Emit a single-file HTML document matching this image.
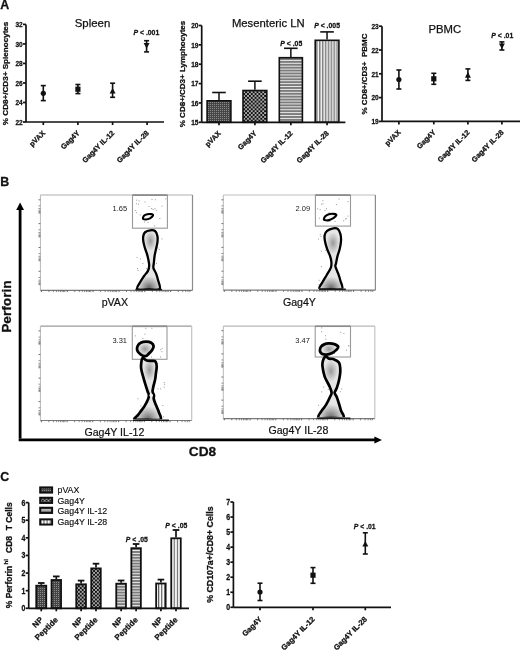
<!DOCTYPE html>
<html><head><meta charset="utf-8"><style>
html,body{margin:0;padding:0;background:#fff;}
svg{display:block;font-family:"Liberation Sans", sans-serif;will-change:transform;}
text[font-weight=bold]{stroke:#111;stroke-width:0.28px;}
</style></head><body>
<svg width="520" height="650" viewBox="0 0 520 650">
<defs>
<pattern id="pv" width="2" height="2" patternUnits="userSpaceOnUse">
<rect width="2" height="2" fill="#454545"/><rect width="1" height="1" fill="#8c8c8c"/>
</pattern>
<pattern id="gy" width="3.8" height="3.8" patternUnits="userSpaceOnUse">
<rect width="3.8" height="3.8" fill="#111"/><rect x="0.2" y="0.2" width="1.55" height="1.55" fill="#f2f2f2"/><rect x="2.1" y="2.1" width="1.55" height="1.55" fill="#f2f2f2"/>
</pattern>
<pattern id="h12" width="4" height="2.9" patternUnits="userSpaceOnUse">
<rect width="4" height="2.9" fill="#f4f4f4"/><rect width="4" height="2.0" fill="#7c7c7c"/>
</pattern>
<pattern id="v28c" width="3.1" height="4" patternUnits="userSpaceOnUse" x="0.1">
<rect width="3.1" height="4" fill="#fafafa"/><rect x="0" width="1.0" height="4" fill="#4a4a4a"/>
</pattern>
<pattern id="v28" width="2.9" height="4" patternUnits="userSpaceOnUse">
<rect width="2.9" height="4" fill="#f6f6f6"/><rect width="1.5" height="4" fill="#7e7e7e"/>
</pattern>
<radialGradient id="popg" cx="0.5" cy="0.5" r="0.5">
<stop offset="0" stop-color="#9a9a9a"/><stop offset="1" stop-color="#e4e4e4"/>
</radialGradient>
<linearGradient id="popv" x1="0" y1="0" x2="0" y2="1">
<stop offset="0" stop-color="#d8d8d8"/><stop offset="0.25" stop-color="#b0b0b0"/><stop offset="0.6" stop-color="#e8e8e8"/><stop offset="1" stop-color="#909090"/>
</linearGradient>
<radialGradient id="rgm" cx="0.5" cy="0.5" r="0.5">
<stop offset="0" stop-color="#999"/><stop offset="1" stop-color="#e6e6e6"/>
</radialGradient>
<radialGradient id="rgd" cx="0.5" cy="0.5" r="0.5">
<stop offset="0" stop-color="#626262"/><stop offset="0.5" stop-color="#a8a8a8"/><stop offset="1" stop-color="#e6e6e6"/>
</radialGradient>
</defs>
<rect width="520" height="650" fill="#fff"/>

<text x="0.3" y="9.0" font-size="12.4" font-weight="bold" text-anchor="start" fill="#111">A</text>
<text x="0.3" y="186.0" font-size="12.4" font-weight="bold" text-anchor="start" fill="#111">B</text>
<text x="0.3" y="480.7" font-size="12.4" font-weight="bold" text-anchor="start" fill="#111">C</text>
<line x1="26" y1="24.4" x2="26" y2="122" stroke="#111" stroke-width="1.7"/>
<line x1="23" y1="122.0" x2="26" y2="122.0" stroke="#111" stroke-width="1.7"/>
<text transform="translate(22.70 124.70) scale(0.86 1)" font-size="7.6" font-weight="bold" text-anchor="end" fill="#111">22</text>
<line x1="23" y1="102.48" x2="26" y2="102.48" stroke="#111" stroke-width="1.7"/>
<text transform="translate(22.70 105.18) scale(0.86 1)" font-size="7.6" font-weight="bold" text-anchor="end" fill="#111">24</text>
<line x1="23" y1="82.96000000000001" x2="26" y2="82.96000000000001" stroke="#111" stroke-width="1.7"/>
<text transform="translate(22.70 85.66) scale(0.86 1)" font-size="7.6" font-weight="bold" text-anchor="end" fill="#111">26</text>
<line x1="23" y1="63.44000000000001" x2="26" y2="63.44000000000001" stroke="#111" stroke-width="1.7"/>
<text transform="translate(22.70 66.14) scale(0.86 1)" font-size="7.6" font-weight="bold" text-anchor="end" fill="#111">28</text>
<line x1="23" y1="43.92" x2="26" y2="43.92" stroke="#111" stroke-width="1.7"/>
<text transform="translate(22.70 46.62) scale(0.86 1)" font-size="7.6" font-weight="bold" text-anchor="end" fill="#111">30</text>
<line x1="23" y1="24.400000000000006" x2="26" y2="24.400000000000006" stroke="#111" stroke-width="1.7"/>
<text transform="translate(22.70 27.10) scale(0.86 1)" font-size="7.6" font-weight="bold" text-anchor="end" fill="#111">32</text>
<line x1="26" y1="122" x2="164" y2="122" stroke="#111" stroke-width="1.7"/>
<line x1="43.3" y1="122" x2="43.3" y2="125" stroke="#111" stroke-width="1.7"/>
<text x="45.599999999999994" y="133.5" font-size="7.3" font-weight="bold" text-anchor="end" transform="rotate(-45 45.599999999999994 133.5)" fill="#111">pVAX</text>
<line x1="77.9" y1="122" x2="77.9" y2="125" stroke="#111" stroke-width="1.7"/>
<text x="80.2" y="133.5" font-size="7.3" font-weight="bold" text-anchor="end" transform="rotate(-45 80.2 133.5)" fill="#111">Gag4Y</text>
<line x1="112.6" y1="122" x2="112.6" y2="125" stroke="#111" stroke-width="1.7"/>
<text x="114.89999999999999" y="133.5" font-size="7.3" font-weight="bold" text-anchor="end" transform="rotate(-45 114.89999999999999 133.5)" fill="#111">Gag4Y IL-12</text>
<line x1="147.1" y1="122" x2="147.1" y2="125" stroke="#111" stroke-width="1.7"/>
<text x="149.4" y="133.5" font-size="7.3" font-weight="bold" text-anchor="end" transform="rotate(-45 149.4 133.5)" fill="#111">Gag4Y IL-28</text>
<text x="8.5" y="73.4" font-size="8.1" font-weight="bold" text-anchor="middle" transform="rotate(-90 8.5 73.4)" fill="#111">% CD8+/CD3+ Splenocytes</text>
<text x="92.5" y="26.5" font-size="11.4" font-weight="normal" text-anchor="middle" fill="#111" stroke="#111" stroke-width="0.25">Spleen</text>
<line x1="43.3" y1="85.6" x2="43.3" y2="100.6" stroke="#111" stroke-width="1.6"/>
<line x1="40.8" y1="85.6" x2="45.8" y2="85.6" stroke="#111" stroke-width="1.6"/>
<line x1="40.8" y1="100.6" x2="45.8" y2="100.6" stroke="#111" stroke-width="1.6"/>
<circle cx="43.3" cy="93.3" r="2.6" fill="#111"/>
<line x1="77.9" y1="84.5" x2="77.9" y2="93.6" stroke="#111" stroke-width="1.6"/>
<line x1="75.4" y1="84.5" x2="80.4" y2="84.5" stroke="#111" stroke-width="1.6"/>
<line x1="75.4" y1="93.6" x2="80.4" y2="93.6" stroke="#111" stroke-width="1.6"/>
<rect x="75.30000000000001" y="86.60000000000001" width="5.2" height="5.2" fill="#111"/>
<line x1="112.6" y1="83.2" x2="112.6" y2="97.3" stroke="#111" stroke-width="1.6"/>
<line x1="110.1" y1="83.2" x2="115.1" y2="83.2" stroke="#111" stroke-width="1.6"/>
<line x1="110.1" y1="97.3" x2="115.1" y2="97.3" stroke="#111" stroke-width="1.6"/>
<polygon points="112.6,87.9 115.6,93.49999999999999 109.6,93.49999999999999" fill="#111"/>
<line x1="146.6" y1="40.7" x2="146.6" y2="51.9" stroke="#111" stroke-width="1.6"/>
<line x1="144.1" y1="40.7" x2="149.1" y2="40.7" stroke="#111" stroke-width="1.6"/>
<line x1="144.1" y1="51.9" x2="149.1" y2="51.9" stroke="#111" stroke-width="1.6"/>
<polygon points="146.6,48.5 149.6,42.9 143.6,42.9" fill="#111"/>
<text transform="translate(146.35 35.1) scale(0.86 1)" font-size="8.0" font-weight="bold" text-anchor="middle" fill="#111"><tspan font-style="italic">P</tspan> &lt; .001</text>
<line x1="201.7" y1="25.5" x2="201.7" y2="122.3" stroke="#111" stroke-width="1.7"/>
<line x1="198.7" y1="122.3" x2="201.7" y2="122.3" stroke="#111" stroke-width="1.7"/>
<text transform="translate(198.40 125.00) scale(0.86 1)" font-size="7.6" font-weight="bold" text-anchor="end" fill="#111">15</text>
<line x1="198.7" y1="102.94" x2="201.7" y2="102.94" stroke="#111" stroke-width="1.7"/>
<text transform="translate(198.40 105.64) scale(0.86 1)" font-size="7.6" font-weight="bold" text-anchor="end" fill="#111">16</text>
<line x1="198.7" y1="83.58" x2="201.7" y2="83.58" stroke="#111" stroke-width="1.7"/>
<text transform="translate(198.40 86.28) scale(0.86 1)" font-size="7.6" font-weight="bold" text-anchor="end" fill="#111">17</text>
<line x1="198.7" y1="64.22" x2="201.7" y2="64.22" stroke="#111" stroke-width="1.7"/>
<text transform="translate(198.40 66.92) scale(0.86 1)" font-size="7.6" font-weight="bold" text-anchor="end" fill="#111">18</text>
<line x1="198.7" y1="44.86" x2="201.7" y2="44.86" stroke="#111" stroke-width="1.7"/>
<text transform="translate(198.40 47.56) scale(0.86 1)" font-size="7.6" font-weight="bold" text-anchor="end" fill="#111">19</text>
<line x1="198.7" y1="25.5" x2="201.7" y2="25.5" stroke="#111" stroke-width="1.7"/>
<text transform="translate(198.40 28.20) scale(0.86 1)" font-size="7.6" font-weight="bold" text-anchor="end" fill="#111">20</text>
<line x1="219.0" y1="100" x2="219.0" y2="92.5" stroke="#111" stroke-width="1.5"/>
<line x1="212.2" y1="92.5" x2="225.8" y2="92.5" stroke="#111" stroke-width="1.6"/>
<rect x="207.10000000000002" y="100.8" width="23.799999999999976" height="21.499999999999996" fill="url(#pv)" stroke="#111" stroke-width="1.6"/>
<line x1="254.9" y1="89.7" x2="254.9" y2="81.2" stroke="#111" stroke-width="1.5"/>
<line x1="248.1" y1="81.2" x2="261.7" y2="81.2" stroke="#111" stroke-width="1.6"/>
<rect x="243.0" y="90.5" width="23.800000000000033" height="31.799999999999994" fill="url(#gy)" stroke="#111" stroke-width="1.6"/>
<line x1="290.85" y1="56.9" x2="290.85" y2="48.3" stroke="#111" stroke-width="1.5"/>
<line x1="284.05" y1="48.3" x2="297.65000000000003" y2="48.3" stroke="#111" stroke-width="1.6"/>
<rect x="279.3" y="57.699999999999996" width="23.099999999999987" height="64.60000000000001" fill="url(#h12)" stroke="#111" stroke-width="1.6"/>
<line x1="327.04999999999995" y1="39.5" x2="327.04999999999995" y2="31.9" stroke="#111" stroke-width="1.5"/>
<line x1="320.24999999999994" y1="31.9" x2="333.84999999999997" y2="31.9" stroke="#111" stroke-width="1.6"/>
<rect x="315.2" y="40.3" width="23.70000000000001" height="82.0" fill="url(#v28)" stroke="#111" stroke-width="1.6"/>
<line x1="201.7" y1="122.3" x2="345.4" y2="122.3" stroke="#111" stroke-width="1.7"/>
<line x1="219.0" y1="122.3" x2="219.0" y2="125.3" stroke="#111" stroke-width="1.7"/>
<text x="221.3" y="133.8" font-size="7.3" font-weight="bold" text-anchor="end" transform="rotate(-45 221.3 133.8)" fill="#111">pVAX</text>
<line x1="254.9" y1="122.3" x2="254.9" y2="125.3" stroke="#111" stroke-width="1.7"/>
<text x="257.2" y="133.8" font-size="7.3" font-weight="bold" text-anchor="end" transform="rotate(-45 257.2 133.8)" fill="#111">Gag4Y</text>
<line x1="290.85" y1="122.3" x2="290.85" y2="125.3" stroke="#111" stroke-width="1.7"/>
<text x="293.15000000000003" y="133.8" font-size="7.3" font-weight="bold" text-anchor="end" transform="rotate(-45 293.15000000000003 133.8)" fill="#111">Gag4Y IL-12</text>
<line x1="327.04999999999995" y1="122.3" x2="327.04999999999995" y2="125.3" stroke="#111" stroke-width="1.7"/>
<text x="329.34999999999997" y="133.8" font-size="7.3" font-weight="bold" text-anchor="end" transform="rotate(-45 329.34999999999997 133.8)" fill="#111">Gag4Y IL-28</text>
<text x="184.9" y="74" font-size="8.0" font-weight="bold" text-anchor="middle" transform="rotate(-90 184.9 74)" fill="#111">% CD8+/CD3+ Lymphocytes</text>
<text x="268.3" y="26.8" font-size="11.3" font-weight="normal" text-anchor="middle" fill="#111" stroke="#111" stroke-width="0.25">Mesenteric LN</text>
<text transform="translate(291.25 45.7) scale(0.86 1)" font-size="8.0" font-weight="bold" text-anchor="middle" fill="#111"><tspan font-style="italic">P</tspan> &lt; .05</text>
<text transform="translate(327.05 28.4) scale(0.86 1)" font-size="8.0" font-weight="bold" text-anchor="middle" fill="#111"><tspan font-style="italic">P</tspan> &lt; .005</text>
<line x1="382" y1="26.2" x2="382" y2="121.4" stroke="#111" stroke-width="1.7"/>
<line x1="379" y1="121.4" x2="382" y2="121.4" stroke="#111" stroke-width="1.7"/>
<text transform="translate(378.70 124.10) scale(0.86 1)" font-size="7.6" font-weight="bold" text-anchor="end" fill="#111">19</text>
<line x1="379" y1="97.60000000000001" x2="382" y2="97.60000000000001" stroke="#111" stroke-width="1.7"/>
<text transform="translate(378.70 100.30) scale(0.86 1)" font-size="7.6" font-weight="bold" text-anchor="end" fill="#111">20</text>
<line x1="379" y1="73.80000000000001" x2="382" y2="73.80000000000001" stroke="#111" stroke-width="1.7"/>
<text transform="translate(378.70 76.50) scale(0.86 1)" font-size="7.6" font-weight="bold" text-anchor="end" fill="#111">21</text>
<line x1="379" y1="50.0" x2="382" y2="50.0" stroke="#111" stroke-width="1.7"/>
<text transform="translate(378.70 52.70) scale(0.86 1)" font-size="7.6" font-weight="bold" text-anchor="end" fill="#111">22</text>
<line x1="379" y1="26.200000000000003" x2="382" y2="26.200000000000003" stroke="#111" stroke-width="1.7"/>
<text transform="translate(378.70 28.90) scale(0.86 1)" font-size="7.6" font-weight="bold" text-anchor="end" fill="#111">23</text>
<line x1="382" y1="121.4" x2="520" y2="121.4" stroke="#111" stroke-width="1.7"/>
<line x1="398.9" y1="121.4" x2="398.9" y2="124.4" stroke="#111" stroke-width="1.7"/>
<text x="401.2" y="132.9" font-size="7.3" font-weight="bold" text-anchor="end" transform="rotate(-45 401.2 132.9)" fill="#111">pVAX</text>
<line x1="433.8" y1="121.4" x2="433.8" y2="124.4" stroke="#111" stroke-width="1.7"/>
<text x="436.1" y="132.9" font-size="7.3" font-weight="bold" text-anchor="end" transform="rotate(-45 436.1 132.9)" fill="#111">Gag4Y</text>
<line x1="467.9" y1="121.4" x2="467.9" y2="124.4" stroke="#111" stroke-width="1.7"/>
<text x="470.2" y="132.9" font-size="7.3" font-weight="bold" text-anchor="end" transform="rotate(-45 470.2 132.9)" fill="#111">Gag4Y IL-12</text>
<line x1="501.9" y1="121.4" x2="501.9" y2="124.4" stroke="#111" stroke-width="1.7"/>
<text x="504.2" y="132.9" font-size="7.3" font-weight="bold" text-anchor="end" transform="rotate(-45 504.2 132.9)" fill="#111">Gag4Y IL-28</text>
<text x="367.09999999999997" y="74" font-size="8.0" font-weight="bold" text-anchor="middle" transform="rotate(-90 367.09999999999997 74)" fill="#111">% CD8+/CD3+&#160; PBMC</text>
<text x="444.8" y="33.3" font-size="11.3" font-weight="normal" text-anchor="middle" fill="#111" stroke="#111" stroke-width="0.25">PBMC</text>
<line x1="398.9" y1="70" x2="398.9" y2="89" stroke="#111" stroke-width="1.6"/>
<line x1="396.4" y1="70" x2="401.4" y2="70" stroke="#111" stroke-width="1.6"/>
<line x1="396.4" y1="89" x2="401.4" y2="89" stroke="#111" stroke-width="1.6"/>
<circle cx="398.9" cy="79.5" r="2.6" fill="#111"/>
<line x1="433.8" y1="73.3" x2="433.8" y2="84.3" stroke="#111" stroke-width="1.6"/>
<line x1="431.3" y1="73.3" x2="436.3" y2="73.3" stroke="#111" stroke-width="1.6"/>
<line x1="431.3" y1="84.3" x2="436.3" y2="84.3" stroke="#111" stroke-width="1.6"/>
<rect x="431.2" y="76.2" width="5.2" height="5.2" fill="#111"/>
<line x1="467.9" y1="68.9" x2="467.9" y2="80.4" stroke="#111" stroke-width="1.6"/>
<line x1="465.4" y1="68.9" x2="470.4" y2="68.9" stroke="#111" stroke-width="1.6"/>
<line x1="465.4" y1="80.4" x2="470.4" y2="80.4" stroke="#111" stroke-width="1.6"/>
<polygon points="467.9,72.10000000000001 470.9,77.69999999999999 464.9,77.69999999999999" fill="#111"/>
<line x1="501.9" y1="41.9" x2="501.9" y2="50" stroke="#111" stroke-width="1.6"/>
<line x1="499.4" y1="41.9" x2="504.4" y2="41.9" stroke="#111" stroke-width="1.6"/>
<line x1="499.4" y1="50" x2="504.4" y2="50" stroke="#111" stroke-width="1.6"/>
<polygon points="501.9,49.0 504.9,43.4 498.9,43.4" fill="#111"/>
<text transform="translate(502.25 38.2) scale(0.86 1)" font-size="8.0" font-weight="bold" text-anchor="middle" fill="#111"><tspan font-style="italic">P</tspan> &lt; .01</text>
<line x1="40.4" y1="195.0" x2="192.5" y2="195.0" stroke="#b0b0b0" stroke-width="1.2"/>
<line x1="192.5" y1="195.0" x2="192.5" y2="290.4" stroke="#8c8c8c" stroke-width="1.2"/>
<line x1="40.4" y1="195.0" x2="40.4" y2="290.4" stroke="#b8b8b8" stroke-width="1"/>
<line x1="40.4" y1="290.4" x2="192.5" y2="290.4" stroke="#7a7a7a" stroke-width="1.2"/>
<line x1="38.5" y1="199.8" x2="40.4" y2="199.8" stroke="#666" stroke-width="0.9"/>
<line x1="38.5" y1="205.9" x2="40.4" y2="205.9" stroke="#666" stroke-width="0.7"/>
<line x1="38.5" y1="208.6" x2="40.4" y2="208.6" stroke="#666" stroke-width="0.7"/>
<line x1="38.5" y1="210.2" x2="40.4" y2="210.2" stroke="#666" stroke-width="0.7"/>
<line x1="38.5" y1="211.5" x2="40.4" y2="211.5" stroke="#666" stroke-width="0.7"/>
<line x1="38.5" y1="212.3" x2="40.4" y2="212.3" stroke="#666" stroke-width="0.7"/>
<line x1="38.5" y1="213.1" x2="40.4" y2="213.1" stroke="#666" stroke-width="0.7"/>
<line x1="38.5" y1="223.6" x2="40.4" y2="223.6" stroke="#666" stroke-width="0.9"/>
<line x1="38.5" y1="229.8" x2="40.4" y2="229.8" stroke="#666" stroke-width="0.7"/>
<line x1="38.5" y1="232.5" x2="40.4" y2="232.5" stroke="#666" stroke-width="0.7"/>
<line x1="38.5" y1="234.1" x2="40.4" y2="234.1" stroke="#666" stroke-width="0.7"/>
<line x1="38.5" y1="235.3" x2="40.4" y2="235.3" stroke="#666" stroke-width="0.7"/>
<line x1="38.5" y1="236.2" x2="40.4" y2="236.2" stroke="#666" stroke-width="0.7"/>
<line x1="38.5" y1="236.9" x2="40.4" y2="236.9" stroke="#666" stroke-width="0.7"/>
<line x1="38.5" y1="247.5" x2="40.4" y2="247.5" stroke="#666" stroke-width="0.9"/>
<line x1="38.5" y1="253.6" x2="40.4" y2="253.6" stroke="#666" stroke-width="0.7"/>
<line x1="38.5" y1="256.3" x2="40.4" y2="256.3" stroke="#666" stroke-width="0.7"/>
<line x1="38.5" y1="257.9" x2="40.4" y2="257.9" stroke="#666" stroke-width="0.7"/>
<line x1="38.5" y1="259.2" x2="40.4" y2="259.2" stroke="#666" stroke-width="0.7"/>
<line x1="38.5" y1="260.0" x2="40.4" y2="260.0" stroke="#666" stroke-width="0.7"/>
<line x1="38.5" y1="260.8" x2="40.4" y2="260.8" stroke="#666" stroke-width="0.7"/>
<line x1="38.5" y1="271.3" x2="40.4" y2="271.3" stroke="#666" stroke-width="0.9"/>
<line x1="38.5" y1="277.5" x2="40.4" y2="277.5" stroke="#666" stroke-width="0.7"/>
<line x1="38.5" y1="280.2" x2="40.4" y2="280.2" stroke="#666" stroke-width="0.7"/>
<line x1="38.5" y1="281.8" x2="40.4" y2="281.8" stroke="#666" stroke-width="0.7"/>
<line x1="38.5" y1="283.0" x2="40.4" y2="283.0" stroke="#666" stroke-width="0.7"/>
<line x1="38.5" y1="283.9" x2="40.4" y2="283.9" stroke="#666" stroke-width="0.7"/>
<line x1="38.5" y1="284.6" x2="40.4" y2="284.6" stroke="#666" stroke-width="0.7"/>
<line x1="41.4" y1="290.4" x2="41.4" y2="292.09999999999997" stroke="#555" stroke-width="0.9"/>
<line x1="48.9" y1="290.4" x2="48.9" y2="292.09999999999997" stroke="#555" stroke-width="0.7"/>
<line x1="53.4" y1="290.4" x2="53.4" y2="292.09999999999997" stroke="#555" stroke-width="0.7"/>
<line x1="56.4" y1="290.4" x2="56.4" y2="292.09999999999997" stroke="#555" stroke-width="0.7"/>
<line x1="58.7" y1="290.4" x2="58.7" y2="292.09999999999997" stroke="#555" stroke-width="0.7"/>
<line x1="60.6" y1="290.4" x2="60.6" y2="292.09999999999997" stroke="#555" stroke-width="0.7"/>
<line x1="62.2" y1="290.4" x2="62.2" y2="292.09999999999997" stroke="#555" stroke-width="0.7"/>
<line x1="63.6" y1="290.4" x2="63.6" y2="292.09999999999997" stroke="#555" stroke-width="0.7"/>
<line x1="64.9" y1="290.4" x2="64.9" y2="292.09999999999997" stroke="#555" stroke-width="0.7"/>
<line x1="67.3" y1="290.4" x2="67.3" y2="292.09999999999997" stroke="#555" stroke-width="0.9"/>
<line x1="74.8" y1="290.4" x2="74.8" y2="292.09999999999997" stroke="#555" stroke-width="0.7"/>
<line x1="79.3" y1="290.4" x2="79.3" y2="292.09999999999997" stroke="#555" stroke-width="0.7"/>
<line x1="82.3" y1="290.4" x2="82.3" y2="292.09999999999997" stroke="#555" stroke-width="0.7"/>
<line x1="84.6" y1="290.4" x2="84.6" y2="292.09999999999997" stroke="#555" stroke-width="0.7"/>
<line x1="86.5" y1="290.4" x2="86.5" y2="292.09999999999997" stroke="#555" stroke-width="0.7"/>
<line x1="88.1" y1="290.4" x2="88.1" y2="292.09999999999997" stroke="#555" stroke-width="0.7"/>
<line x1="89.5" y1="290.4" x2="89.5" y2="292.09999999999997" stroke="#555" stroke-width="0.7"/>
<line x1="90.8" y1="290.4" x2="90.8" y2="292.09999999999997" stroke="#555" stroke-width="0.7"/>
<line x1="93.1" y1="290.4" x2="93.1" y2="292.09999999999997" stroke="#555" stroke-width="0.9"/>
<line x1="100.6" y1="290.4" x2="100.6" y2="292.09999999999997" stroke="#555" stroke-width="0.7"/>
<line x1="105.1" y1="290.4" x2="105.1" y2="292.09999999999997" stroke="#555" stroke-width="0.7"/>
<line x1="108.1" y1="290.4" x2="108.1" y2="292.09999999999997" stroke="#555" stroke-width="0.7"/>
<line x1="110.4" y1="290.4" x2="110.4" y2="292.09999999999997" stroke="#555" stroke-width="0.7"/>
<line x1="112.3" y1="290.4" x2="112.3" y2="292.09999999999997" stroke="#555" stroke-width="0.7"/>
<line x1="113.9" y1="290.4" x2="113.9" y2="292.09999999999997" stroke="#555" stroke-width="0.7"/>
<line x1="115.3" y1="290.4" x2="115.3" y2="292.09999999999997" stroke="#555" stroke-width="0.7"/>
<line x1="116.6" y1="290.4" x2="116.6" y2="292.09999999999997" stroke="#555" stroke-width="0.7"/>
<line x1="119.0" y1="290.4" x2="119.0" y2="292.09999999999997" stroke="#555" stroke-width="0.9"/>
<line x1="126.5" y1="290.4" x2="126.5" y2="292.09999999999997" stroke="#555" stroke-width="0.7"/>
<line x1="131.0" y1="290.4" x2="131.0" y2="292.09999999999997" stroke="#555" stroke-width="0.7"/>
<line x1="134.0" y1="290.4" x2="134.0" y2="292.09999999999997" stroke="#555" stroke-width="0.7"/>
<line x1="136.3" y1="290.4" x2="136.3" y2="292.09999999999997" stroke="#555" stroke-width="0.7"/>
<line x1="138.2" y1="290.4" x2="138.2" y2="292.09999999999997" stroke="#555" stroke-width="0.7"/>
<line x1="139.8" y1="290.4" x2="139.8" y2="292.09999999999997" stroke="#555" stroke-width="0.7"/>
<line x1="141.2" y1="290.4" x2="141.2" y2="292.09999999999997" stroke="#555" stroke-width="0.7"/>
<line x1="142.5" y1="290.4" x2="142.5" y2="292.09999999999997" stroke="#555" stroke-width="0.7"/>
<line x1="144.8" y1="290.4" x2="144.8" y2="292.09999999999997" stroke="#555" stroke-width="0.9"/>
<line x1="152.3" y1="290.4" x2="152.3" y2="292.09999999999997" stroke="#555" stroke-width="0.7"/>
<line x1="156.8" y1="290.4" x2="156.8" y2="292.09999999999997" stroke="#555" stroke-width="0.7"/>
<line x1="159.8" y1="290.4" x2="159.8" y2="292.09999999999997" stroke="#555" stroke-width="0.7"/>
<line x1="162.1" y1="290.4" x2="162.1" y2="292.09999999999997" stroke="#555" stroke-width="0.7"/>
<line x1="164.0" y1="290.4" x2="164.0" y2="292.09999999999997" stroke="#555" stroke-width="0.7"/>
<line x1="165.6" y1="290.4" x2="165.6" y2="292.09999999999997" stroke="#555" stroke-width="0.7"/>
<line x1="167.0" y1="290.4" x2="167.0" y2="292.09999999999997" stroke="#555" stroke-width="0.7"/>
<line x1="168.3" y1="290.4" x2="168.3" y2="292.09999999999997" stroke="#555" stroke-width="0.7"/>
<line x1="170.7" y1="290.4" x2="170.7" y2="292.09999999999997" stroke="#555" stroke-width="0.9"/>
<line x1="178.2" y1="290.4" x2="178.2" y2="292.09999999999997" stroke="#555" stroke-width="0.7"/>
<line x1="182.7" y1="290.4" x2="182.7" y2="292.09999999999997" stroke="#555" stroke-width="0.7"/>
<line x1="185.7" y1="290.4" x2="185.7" y2="292.09999999999997" stroke="#555" stroke-width="0.7"/>
<line x1="188.0" y1="290.4" x2="188.0" y2="292.09999999999997" stroke="#555" stroke-width="0.7"/>
<line x1="189.9" y1="290.4" x2="189.9" y2="292.09999999999997" stroke="#555" stroke-width="0.7"/>
<rect x="132.5" y="195.4" width="34.900000000000006" height="32.79999999999999" fill="none" stroke="#999" stroke-width="1.1"/>
<line x1="132.5" y1="195.0" x2="167.4" y2="195.0" stroke="#888" stroke-width="1.3"/>
<text x="127.2" y="211.1" font-size="7.5" font-weight="normal" text-anchor="end" fill="#1a1a1a">1.65</text>
<text x="114.85" y="305.9" font-size="10.6" font-weight="normal" text-anchor="middle" fill="#111" stroke="#111" stroke-width="0.2">pVAX</text>
<rect x="144.4" y="201.5" width="1" height="1" fill="#9a9a9a"/>
<rect x="154.8" y="199.2" width="1" height="1" fill="#9a9a9a"/>
<rect x="151.1" y="208.0" width="1" height="1" fill="#9a9a9a"/>
<rect x="135.9" y="212.2" width="1" height="1" fill="#9a9a9a"/>
<rect x="135.2" y="210.0" width="1" height="1" fill="#9a9a9a"/>
<rect x="136.2" y="199.7" width="1" height="1" fill="#9a9a9a"/>
<rect x="147.6" y="221.8" width="1" height="1" fill="#9a9a9a"/>
<rect x="138.0" y="203.7" width="1" height="1" fill="#9a9a9a"/>
<rect x="154.1" y="225.4" width="1" height="1" fill="#9a9a9a"/>
<rect x="152.5" y="208.9" width="1" height="1" fill="#9a9a9a"/>
<rect x="165.2" y="198.4" width="1" height="1" fill="#9a9a9a"/>
<rect x="161.5" y="205.7" width="1" height="1" fill="#9a9a9a"/>
<rect x="138.6" y="200.5" width="1" height="1" fill="#9a9a9a"/>
<rect x="143.9" y="221.5" width="1" height="1" fill="#9a9a9a"/>
<rect x="139.8" y="214.4" width="1" height="1" fill="#9a9a9a"/>
<rect x="154.4" y="208.2" width="1" height="1" fill="#9a9a9a"/>
<rect x="151.5" y="198.9" width="1" height="1" fill="#9a9a9a"/>
<rect x="135.9" y="203.2" width="1" height="1" fill="#9a9a9a"/>
<rect x="155.8" y="209.8" width="1" height="1" fill="#9a9a9a"/>
<rect x="144.1" y="214.6" width="1" height="1" fill="#9a9a9a"/>
<rect x="148.5" y="206.0" width="1" height="1" fill="#9a9a9a"/>
<rect x="159.4" y="218.0" width="1" height="1" fill="#9a9a9a"/>
<rect x="142.3" y="263.0" width="1" height="1" fill="#9a9a9a"/>
<rect x="149.7" y="279.3" width="1" height="1" fill="#9a9a9a"/>
<rect x="155.0" y="247.5" width="1" height="1" fill="#9a9a9a"/>
<rect x="161.5" y="238.4" width="1" height="1" fill="#9a9a9a"/>
<rect x="146.9" y="272.9" width="1" height="1" fill="#9a9a9a"/>
<rect x="140.0" y="258.4" width="1" height="1" fill="#9a9a9a"/>
<rect x="137.0" y="268.1" width="1" height="1" fill="#9a9a9a"/>
<rect x="155.9" y="262.9" width="1" height="1" fill="#9a9a9a"/>
<rect x="158.8" y="248.9" width="1" height="1" fill="#9a9a9a"/>
<rect x="154.1" y="264.1" width="1" height="1" fill="#9a9a9a"/>
<rect x="151.1" y="256.6" width="1" height="1" fill="#9a9a9a"/>
<rect x="157.8" y="283.0" width="1" height="1" fill="#9a9a9a"/>
<rect x="148.3" y="267.9" width="1" height="1" fill="#9a9a9a"/>
<rect x="137.6" y="269.9" width="1" height="1" fill="#9a9a9a"/>
<rect x="152.8" y="285.6" width="1" height="1" fill="#9a9a9a"/>
<rect x="157.4" y="247.4" width="1" height="1" fill="#9a9a9a"/>
<rect x="146.0" y="268.1" width="1" height="1" fill="#9a9a9a"/>
<rect x="136.6" y="256.9" width="1" height="1" fill="#9a9a9a"/>
<path d="M 142.95 218.08 C 143.04 217.51 143.21 216.31 143.92 215.66 C 144.63 215.02 145.99 214.48 147.22 214.23 C 148.45 213.97 150.34 214.02 151.31 214.13 C 152.28 214.25 152.85 214.50 153.03 214.90 C 153.21 215.31 152.95 215.93 152.37 216.55 C 151.80 217.18 150.63 218.16 149.56 218.65 C 148.49 219.13 146.98 219.38 145.94 219.45 C 144.91 219.53 143.85 219.33 143.35 219.10 C 142.85 218.88 142.85 218.66 142.95 218.08 Z" fill="#f4f4f4" stroke="#000" stroke-width="2.1"/>
<clipPath id="c1"><path d="M 150.17 230.30 C 151.83 230.08 153.83 230.04 155.03 230.97 C 156.24 231.91 157.02 234.02 157.41 235.93 C 157.81 237.84 157.64 240.26 157.40 242.44 C 157.17 244.61 156.48 246.76 156.01 248.98 C 155.55 251.19 154.96 253.46 154.61 255.71 C 154.26 257.95 154.10 260.39 153.90 262.44 C 153.70 264.49 153.06 266.19 153.41 268.02 C 153.77 269.84 155.27 271.41 156.04 273.41 C 156.81 275.42 157.42 277.39 158.01 280.02 C 158.60 282.65 161.16 287.61 159.58 289.18 C 157.99 290.74 152.22 289.40 148.50 289.40 C 144.78 289.40 138.56 290.49 137.23 289.18 C 135.90 287.87 139.43 283.72 140.54 281.56 C 141.65 279.40 142.66 278.02 143.89 276.24 C 145.13 274.46 147.05 272.66 147.94 270.87 C 148.82 269.08 149.16 267.51 149.20 265.51 C 149.24 263.51 148.58 260.86 148.19 258.88 C 147.80 256.90 147.44 255.54 146.87 253.63 C 146.31 251.72 145.37 249.54 144.78 247.44 C 144.18 245.34 143.54 242.94 143.30 241.02 C 143.05 239.11 142.99 237.39 143.29 235.93 C 143.58 234.47 143.93 233.20 145.08 232.26 C 146.23 231.32 148.51 230.51 150.17 230.30 Z"/></clipPath>
<path d="M 150.17 230.30 C 151.83 230.08 153.83 230.04 155.03 230.97 C 156.24 231.91 157.02 234.02 157.41 235.93 C 157.81 237.84 157.64 240.26 157.40 242.44 C 157.17 244.61 156.48 246.76 156.01 248.98 C 155.55 251.19 154.96 253.46 154.61 255.71 C 154.26 257.95 154.10 260.39 153.90 262.44 C 153.70 264.49 153.06 266.19 153.41 268.02 C 153.77 269.84 155.27 271.41 156.04 273.41 C 156.81 275.42 157.42 277.39 158.01 280.02 C 158.60 282.65 161.16 287.61 159.58 289.18 C 157.99 290.74 152.22 289.40 148.50 289.40 C 144.78 289.40 138.56 290.49 137.23 289.18 C 135.90 287.87 139.43 283.72 140.54 281.56 C 141.65 279.40 142.66 278.02 143.89 276.24 C 145.13 274.46 147.05 272.66 147.94 270.87 C 148.82 269.08 149.16 267.51 149.20 265.51 C 149.24 263.51 148.58 260.86 148.19 258.88 C 147.80 256.90 147.44 255.54 146.87 253.63 C 146.31 251.72 145.37 249.54 144.78 247.44 C 144.18 245.34 143.54 242.94 143.30 241.02 C 143.05 239.11 142.99 237.39 143.29 235.93 C 143.58 234.47 143.93 233.20 145.08 232.26 C 146.23 231.32 148.51 230.51 150.17 230.30 Z" fill="#e6e6e6"/>
<g clip-path="url(#c1)">
<ellipse cx="150.5" cy="241" rx="6" ry="10" fill="url(#rgm)"/>
<ellipse cx="149" cy="288" rx="12" ry="12" fill="url(#rgd)"/>
</g>
<clipPath id="c1b"><rect x="0" y="0" width="520" height="289.0"/></clipPath>
<path d="M 150.17 230.30 C 151.83 230.08 153.83 230.04 155.03 230.97 C 156.24 231.91 157.02 234.02 157.41 235.93 C 157.81 237.84 157.64 240.26 157.40 242.44 C 157.17 244.61 156.48 246.76 156.01 248.98 C 155.55 251.19 154.96 253.46 154.61 255.71 C 154.26 257.95 154.10 260.39 153.90 262.44 C 153.70 264.49 153.06 266.19 153.41 268.02 C 153.77 269.84 155.27 271.41 156.04 273.41 C 156.81 275.42 157.42 277.39 158.01 280.02 C 158.60 282.65 161.16 287.61 159.58 289.18 C 157.99 290.74 152.22 289.40 148.50 289.40 C 144.78 289.40 138.56 290.49 137.23 289.18 C 135.90 287.87 139.43 283.72 140.54 281.56 C 141.65 279.40 142.66 278.02 143.89 276.24 C 145.13 274.46 147.05 272.66 147.94 270.87 C 148.82 269.08 149.16 267.51 149.20 265.51 C 149.24 263.51 148.58 260.86 148.19 258.88 C 147.80 256.90 147.44 255.54 146.87 253.63 C 146.31 251.72 145.37 249.54 144.78 247.44 C 144.18 245.34 143.54 242.94 143.30 241.02 C 143.05 239.11 142.99 237.39 143.29 235.93 C 143.58 234.47 143.93 233.20 145.08 232.26 C 146.23 231.32 148.51 230.51 150.17 230.30 Z" fill="none" stroke="#000" stroke-width="2.3" stroke-linejoin="round" clip-path="url(#c1b)"/>
<line x1="135.4" y1="289.6" x2="162.1" y2="289.6" stroke="#1a1a1a" stroke-width="1.6"/>
<line x1="223.3" y1="195.0" x2="375.4" y2="195.0" stroke="#c0c0c0" stroke-width="1.2"/>
<line x1="375.4" y1="195.0" x2="375.4" y2="290.2" stroke="#8c8c8c" stroke-width="1.2"/>
<line x1="223.3" y1="195.0" x2="223.3" y2="290.2" stroke="#b8b8b8" stroke-width="1"/>
<line x1="223.3" y1="290.2" x2="375.4" y2="290.2" stroke="#7a7a7a" stroke-width="1.2"/>
<line x1="221.4" y1="199.8" x2="223.3" y2="199.8" stroke="#666" stroke-width="0.9"/>
<line x1="221.4" y1="205.9" x2="223.3" y2="205.9" stroke="#666" stroke-width="0.7"/>
<line x1="221.4" y1="208.6" x2="223.3" y2="208.6" stroke="#666" stroke-width="0.7"/>
<line x1="221.4" y1="210.2" x2="223.3" y2="210.2" stroke="#666" stroke-width="0.7"/>
<line x1="221.4" y1="211.4" x2="223.3" y2="211.4" stroke="#666" stroke-width="0.7"/>
<line x1="221.4" y1="212.3" x2="223.3" y2="212.3" stroke="#666" stroke-width="0.7"/>
<line x1="221.4" y1="213.1" x2="223.3" y2="213.1" stroke="#666" stroke-width="0.7"/>
<line x1="221.4" y1="223.6" x2="223.3" y2="223.6" stroke="#666" stroke-width="0.9"/>
<line x1="221.4" y1="229.7" x2="223.3" y2="229.7" stroke="#666" stroke-width="0.7"/>
<line x1="221.4" y1="232.4" x2="223.3" y2="232.4" stroke="#666" stroke-width="0.7"/>
<line x1="221.4" y1="234.0" x2="223.3" y2="234.0" stroke="#666" stroke-width="0.7"/>
<line x1="221.4" y1="235.2" x2="223.3" y2="235.2" stroke="#666" stroke-width="0.7"/>
<line x1="221.4" y1="236.1" x2="223.3" y2="236.1" stroke="#666" stroke-width="0.7"/>
<line x1="221.4" y1="236.9" x2="223.3" y2="236.9" stroke="#666" stroke-width="0.7"/>
<line x1="221.4" y1="247.4" x2="223.3" y2="247.4" stroke="#666" stroke-width="0.9"/>
<line x1="221.4" y1="253.5" x2="223.3" y2="253.5" stroke="#666" stroke-width="0.7"/>
<line x1="221.4" y1="256.2" x2="223.3" y2="256.2" stroke="#666" stroke-width="0.7"/>
<line x1="221.4" y1="257.8" x2="223.3" y2="257.8" stroke="#666" stroke-width="0.7"/>
<line x1="221.4" y1="259.0" x2="223.3" y2="259.0" stroke="#666" stroke-width="0.7"/>
<line x1="221.4" y1="259.9" x2="223.3" y2="259.9" stroke="#666" stroke-width="0.7"/>
<line x1="221.4" y1="260.7" x2="223.3" y2="260.7" stroke="#666" stroke-width="0.7"/>
<line x1="221.4" y1="271.2" x2="223.3" y2="271.2" stroke="#666" stroke-width="0.9"/>
<line x1="221.4" y1="277.3" x2="223.3" y2="277.3" stroke="#666" stroke-width="0.7"/>
<line x1="221.4" y1="280.0" x2="223.3" y2="280.0" stroke="#666" stroke-width="0.7"/>
<line x1="221.4" y1="281.6" x2="223.3" y2="281.6" stroke="#666" stroke-width="0.7"/>
<line x1="221.4" y1="282.8" x2="223.3" y2="282.8" stroke="#666" stroke-width="0.7"/>
<line x1="221.4" y1="283.7" x2="223.3" y2="283.7" stroke="#666" stroke-width="0.7"/>
<line x1="221.4" y1="284.5" x2="223.3" y2="284.5" stroke="#666" stroke-width="0.7"/>
<line x1="224.3" y1="290.2" x2="224.3" y2="291.9" stroke="#555" stroke-width="0.9"/>
<line x1="231.8" y1="290.2" x2="231.8" y2="291.9" stroke="#555" stroke-width="0.7"/>
<line x1="236.3" y1="290.2" x2="236.3" y2="291.9" stroke="#555" stroke-width="0.7"/>
<line x1="239.3" y1="290.2" x2="239.3" y2="291.9" stroke="#555" stroke-width="0.7"/>
<line x1="241.6" y1="290.2" x2="241.6" y2="291.9" stroke="#555" stroke-width="0.7"/>
<line x1="243.5" y1="290.2" x2="243.5" y2="291.9" stroke="#555" stroke-width="0.7"/>
<line x1="245.1" y1="290.2" x2="245.1" y2="291.9" stroke="#555" stroke-width="0.7"/>
<line x1="246.5" y1="290.2" x2="246.5" y2="291.9" stroke="#555" stroke-width="0.7"/>
<line x1="247.8" y1="290.2" x2="247.8" y2="291.9" stroke="#555" stroke-width="0.7"/>
<line x1="250.2" y1="290.2" x2="250.2" y2="291.9" stroke="#555" stroke-width="0.9"/>
<line x1="257.7" y1="290.2" x2="257.7" y2="291.9" stroke="#555" stroke-width="0.7"/>
<line x1="262.2" y1="290.2" x2="262.2" y2="291.9" stroke="#555" stroke-width="0.7"/>
<line x1="265.2" y1="290.2" x2="265.2" y2="291.9" stroke="#555" stroke-width="0.7"/>
<line x1="267.5" y1="290.2" x2="267.5" y2="291.9" stroke="#555" stroke-width="0.7"/>
<line x1="269.4" y1="290.2" x2="269.4" y2="291.9" stroke="#555" stroke-width="0.7"/>
<line x1="271.0" y1="290.2" x2="271.0" y2="291.9" stroke="#555" stroke-width="0.7"/>
<line x1="272.4" y1="290.2" x2="272.4" y2="291.9" stroke="#555" stroke-width="0.7"/>
<line x1="273.7" y1="290.2" x2="273.7" y2="291.9" stroke="#555" stroke-width="0.7"/>
<line x1="276.0" y1="290.2" x2="276.0" y2="291.9" stroke="#555" stroke-width="0.9"/>
<line x1="283.5" y1="290.2" x2="283.5" y2="291.9" stroke="#555" stroke-width="0.7"/>
<line x1="288.0" y1="290.2" x2="288.0" y2="291.9" stroke="#555" stroke-width="0.7"/>
<line x1="291.0" y1="290.2" x2="291.0" y2="291.9" stroke="#555" stroke-width="0.7"/>
<line x1="293.3" y1="290.2" x2="293.3" y2="291.9" stroke="#555" stroke-width="0.7"/>
<line x1="295.2" y1="290.2" x2="295.2" y2="291.9" stroke="#555" stroke-width="0.7"/>
<line x1="296.8" y1="290.2" x2="296.8" y2="291.9" stroke="#555" stroke-width="0.7"/>
<line x1="298.2" y1="290.2" x2="298.2" y2="291.9" stroke="#555" stroke-width="0.7"/>
<line x1="299.5" y1="290.2" x2="299.5" y2="291.9" stroke="#555" stroke-width="0.7"/>
<line x1="301.9" y1="290.2" x2="301.9" y2="291.9" stroke="#555" stroke-width="0.9"/>
<line x1="309.4" y1="290.2" x2="309.4" y2="291.9" stroke="#555" stroke-width="0.7"/>
<line x1="313.9" y1="290.2" x2="313.9" y2="291.9" stroke="#555" stroke-width="0.7"/>
<line x1="316.9" y1="290.2" x2="316.9" y2="291.9" stroke="#555" stroke-width="0.7"/>
<line x1="319.2" y1="290.2" x2="319.2" y2="291.9" stroke="#555" stroke-width="0.7"/>
<line x1="321.1" y1="290.2" x2="321.1" y2="291.9" stroke="#555" stroke-width="0.7"/>
<line x1="322.7" y1="290.2" x2="322.7" y2="291.9" stroke="#555" stroke-width="0.7"/>
<line x1="324.1" y1="290.2" x2="324.1" y2="291.9" stroke="#555" stroke-width="0.7"/>
<line x1="325.4" y1="290.2" x2="325.4" y2="291.9" stroke="#555" stroke-width="0.7"/>
<line x1="327.7" y1="290.2" x2="327.7" y2="291.9" stroke="#555" stroke-width="0.9"/>
<line x1="335.2" y1="290.2" x2="335.2" y2="291.9" stroke="#555" stroke-width="0.7"/>
<line x1="339.7" y1="290.2" x2="339.7" y2="291.9" stroke="#555" stroke-width="0.7"/>
<line x1="342.7" y1="290.2" x2="342.7" y2="291.9" stroke="#555" stroke-width="0.7"/>
<line x1="345.0" y1="290.2" x2="345.0" y2="291.9" stroke="#555" stroke-width="0.7"/>
<line x1="346.9" y1="290.2" x2="346.9" y2="291.9" stroke="#555" stroke-width="0.7"/>
<line x1="348.5" y1="290.2" x2="348.5" y2="291.9" stroke="#555" stroke-width="0.7"/>
<line x1="349.9" y1="290.2" x2="349.9" y2="291.9" stroke="#555" stroke-width="0.7"/>
<line x1="351.2" y1="290.2" x2="351.2" y2="291.9" stroke="#555" stroke-width="0.7"/>
<line x1="353.6" y1="290.2" x2="353.6" y2="291.9" stroke="#555" stroke-width="0.9"/>
<line x1="361.1" y1="290.2" x2="361.1" y2="291.9" stroke="#555" stroke-width="0.7"/>
<line x1="365.6" y1="290.2" x2="365.6" y2="291.9" stroke="#555" stroke-width="0.7"/>
<line x1="368.6" y1="290.2" x2="368.6" y2="291.9" stroke="#555" stroke-width="0.7"/>
<line x1="370.9" y1="290.2" x2="370.9" y2="291.9" stroke="#555" stroke-width="0.7"/>
<line x1="372.8" y1="290.2" x2="372.8" y2="291.9" stroke="#555" stroke-width="0.7"/>
<rect x="315.4" y="195.4" width="35.10000000000002" height="30.699999999999996" fill="none" stroke="#999" stroke-width="1.1"/>
<line x1="315.4" y1="195.0" x2="350.5" y2="195.0" stroke="#888" stroke-width="1.3"/>
<text x="310.09999999999997" y="211.2" font-size="7.5" font-weight="normal" text-anchor="end" fill="#1a1a1a">2.09</text>
<text x="299.45" y="306.3" font-size="10.6" font-weight="normal" text-anchor="middle" fill="#111" stroke="#111" stroke-width="0.2">Gag4Y</text>
<rect x="322.4" y="200.2" width="1" height="1" fill="#9a9a9a"/>
<rect x="318.9" y="217.7" width="1" height="1" fill="#9a9a9a"/>
<rect x="321.1" y="203.7" width="1" height="1" fill="#9a9a9a"/>
<rect x="329.5" y="220.5" width="1" height="1" fill="#9a9a9a"/>
<rect x="319.6" y="209.1" width="1" height="1" fill="#9a9a9a"/>
<rect x="334.6" y="220.9" width="1" height="1" fill="#9a9a9a"/>
<rect x="343.2" y="220.3" width="1" height="1" fill="#9a9a9a"/>
<rect x="325.9" y="208.2" width="1" height="1" fill="#9a9a9a"/>
<rect x="328.5" y="220.9" width="1" height="1" fill="#9a9a9a"/>
<rect x="347.6" y="201.1" width="1" height="1" fill="#9a9a9a"/>
<rect x="322.6" y="203.3" width="1" height="1" fill="#9a9a9a"/>
<rect x="324.5" y="210.1" width="1" height="1" fill="#9a9a9a"/>
<rect x="335.9" y="204.1" width="1" height="1" fill="#9a9a9a"/>
<rect x="317.1" y="208.3" width="1" height="1" fill="#9a9a9a"/>
<rect x="328.8" y="212.3" width="1" height="1" fill="#9a9a9a"/>
<rect x="347.5" y="215.6" width="1" height="1" fill="#9a9a9a"/>
<rect x="333.5" y="213.7" width="1" height="1" fill="#9a9a9a"/>
<rect x="338.6" y="198.5" width="1" height="1" fill="#9a9a9a"/>
<rect x="345.8" y="218.1" width="1" height="1" fill="#9a9a9a"/>
<rect x="345.0" y="218.5" width="1" height="1" fill="#9a9a9a"/>
<rect x="329.0" y="252.7" width="1" height="1" fill="#9a9a9a"/>
<rect x="320.9" y="266.2" width="1" height="1" fill="#9a9a9a"/>
<rect x="319.7" y="233.8" width="1" height="1" fill="#9a9a9a"/>
<rect x="323.8" y="239.3" width="1" height="1" fill="#9a9a9a"/>
<rect x="327.5" y="233.0" width="1" height="1" fill="#9a9a9a"/>
<rect x="318.0" y="238.6" width="1" height="1" fill="#9a9a9a"/>
<rect x="320.8" y="250.7" width="1" height="1" fill="#9a9a9a"/>
<rect x="318.7" y="279.8" width="1" height="1" fill="#9a9a9a"/>
<rect x="335.2" y="238.5" width="1" height="1" fill="#9a9a9a"/>
<rect x="325.1" y="249.8" width="1" height="1" fill="#9a9a9a"/>
<rect x="328.2" y="237.0" width="1" height="1" fill="#9a9a9a"/>
<rect x="341.8" y="286.6" width="1" height="1" fill="#9a9a9a"/>
<rect x="331.0" y="257.6" width="1" height="1" fill="#9a9a9a"/>
<rect x="320.4" y="235.8" width="1" height="1" fill="#9a9a9a"/>
<rect x="327.6" y="245.1" width="1" height="1" fill="#9a9a9a"/>
<rect x="341.2" y="239.2" width="1" height="1" fill="#9a9a9a"/>
<rect x="318.6" y="284.2" width="1" height="1" fill="#9a9a9a"/>
<rect x="332.8" y="238.4" width="1" height="1" fill="#9a9a9a"/>
<path d="M 323.85 219.26 C 323.96 218.62 324.44 217.07 325.26 216.22 C 326.09 215.38 327.44 214.60 328.80 214.21 C 330.16 213.81 332.14 213.77 333.40 213.85 C 334.66 213.92 335.98 214.24 336.36 214.63 C 336.74 215.02 336.30 215.50 335.66 216.17 C 335.02 216.84 333.80 217.98 332.50 218.68 C 331.20 219.38 329.15 220.14 327.84 220.36 C 326.52 220.59 325.27 220.22 324.61 220.03 C 323.94 219.85 323.74 219.89 323.85 219.26 Z" fill="#f4f4f4" stroke="#000" stroke-width="2.1"/>
<clipPath id="c2"><path d="M 333.30 228.39 C 335.07 228.08 336.54 228.03 337.73 228.97 C 338.92 229.92 339.88 232.06 340.42 234.06 C 340.97 236.06 341.14 238.42 341.00 240.97 C 340.87 243.52 340.21 246.80 339.62 249.36 C 339.02 251.93 338.02 254.00 337.42 256.35 C 336.82 258.70 336.35 261.78 336.01 263.48 C 335.68 265.18 335.04 264.83 335.41 266.53 C 335.78 268.23 337.40 271.33 338.23 273.70 C 339.07 276.07 339.79 278.19 340.41 280.73 C 341.04 283.27 343.66 287.54 342.00 288.95 C 340.35 290.36 334.27 289.20 330.50 289.20 C 326.73 289.20 320.75 290.11 319.40 288.96 C 318.06 287.80 321.24 284.56 322.44 282.26 C 323.64 279.97 325.22 277.64 326.62 275.20 C 328.02 272.76 330.07 269.78 330.86 267.61 C 331.66 265.44 331.51 264.04 331.40 262.16 C 331.28 260.28 330.86 258.46 330.17 256.32 C 329.48 254.17 328.10 251.64 327.27 249.30 C 326.44 246.96 325.64 244.60 325.19 242.29 C 324.74 239.97 324.28 237.31 324.59 235.40 C 324.91 233.50 325.63 232.03 327.08 230.87 C 328.53 229.70 331.52 228.71 333.30 228.39 Z"/></clipPath>
<path d="M 333.30 228.39 C 335.07 228.08 336.54 228.03 337.73 228.97 C 338.92 229.92 339.88 232.06 340.42 234.06 C 340.97 236.06 341.14 238.42 341.00 240.97 C 340.87 243.52 340.21 246.80 339.62 249.36 C 339.02 251.93 338.02 254.00 337.42 256.35 C 336.82 258.70 336.35 261.78 336.01 263.48 C 335.68 265.18 335.04 264.83 335.41 266.53 C 335.78 268.23 337.40 271.33 338.23 273.70 C 339.07 276.07 339.79 278.19 340.41 280.73 C 341.04 283.27 343.66 287.54 342.00 288.95 C 340.35 290.36 334.27 289.20 330.50 289.20 C 326.73 289.20 320.75 290.11 319.40 288.96 C 318.06 287.80 321.24 284.56 322.44 282.26 C 323.64 279.97 325.22 277.64 326.62 275.20 C 328.02 272.76 330.07 269.78 330.86 267.61 C 331.66 265.44 331.51 264.04 331.40 262.16 C 331.28 260.28 330.86 258.46 330.17 256.32 C 329.48 254.17 328.10 251.64 327.27 249.30 C 326.44 246.96 325.64 244.60 325.19 242.29 C 324.74 239.97 324.28 237.31 324.59 235.40 C 324.91 233.50 325.63 232.03 327.08 230.87 C 328.53 229.70 331.52 228.71 333.30 228.39 Z" fill="#e6e6e6"/>
<g clip-path="url(#c2)">
<ellipse cx="333" cy="243" rx="6.5" ry="11" fill="url(#rgm)"/>
<ellipse cx="331" cy="288.5" rx="12" ry="12" fill="url(#rgd)"/>
</g>
<clipPath id="c2b"><rect x="0" y="0" width="520" height="288.8"/></clipPath>
<path d="M 333.30 228.39 C 335.07 228.08 336.54 228.03 337.73 228.97 C 338.92 229.92 339.88 232.06 340.42 234.06 C 340.97 236.06 341.14 238.42 341.00 240.97 C 340.87 243.52 340.21 246.80 339.62 249.36 C 339.02 251.93 338.02 254.00 337.42 256.35 C 336.82 258.70 336.35 261.78 336.01 263.48 C 335.68 265.18 335.04 264.83 335.41 266.53 C 335.78 268.23 337.40 271.33 338.23 273.70 C 339.07 276.07 339.79 278.19 340.41 280.73 C 341.04 283.27 343.66 287.54 342.00 288.95 C 340.35 290.36 334.27 289.20 330.50 289.20 C 326.73 289.20 320.75 290.11 319.40 288.96 C 318.06 287.80 321.24 284.56 322.44 282.26 C 323.64 279.97 325.22 277.64 326.62 275.20 C 328.02 272.76 330.07 269.78 330.86 267.61 C 331.66 265.44 331.51 264.04 331.40 262.16 C 331.28 260.28 330.86 258.46 330.17 256.32 C 329.48 254.17 328.10 251.64 327.27 249.30 C 326.44 246.96 325.64 244.60 325.19 242.29 C 324.74 239.97 324.28 237.31 324.59 235.40 C 324.91 233.50 325.63 232.03 327.08 230.87 C 328.53 229.70 331.52 228.71 333.30 228.39 Z" fill="none" stroke="#000" stroke-width="2.3" stroke-linejoin="round" clip-path="url(#c2b)"/>
<line x1="319.0" y1="289.3" x2="345.8" y2="289.3" stroke="#1a1a1a" stroke-width="1.6"/>
<line x1="40.4" y1="326.2" x2="191.7" y2="326.2" stroke="#9a9a9a" stroke-width="1.2"/>
<line x1="191.7" y1="326.2" x2="191.7" y2="420.5" stroke="#c4c4c4" stroke-width="1.2"/>
<line x1="40.4" y1="326.2" x2="40.4" y2="420.5" stroke="#b8b8b8" stroke-width="1"/>
<line x1="40.4" y1="420.5" x2="191.7" y2="420.5" stroke="#7a7a7a" stroke-width="1.2"/>
<line x1="38.5" y1="330.9" x2="40.4" y2="330.9" stroke="#666" stroke-width="0.9"/>
<line x1="38.5" y1="337.1" x2="40.4" y2="337.1" stroke="#666" stroke-width="0.7"/>
<line x1="38.5" y1="339.7" x2="40.4" y2="339.7" stroke="#666" stroke-width="0.7"/>
<line x1="38.5" y1="341.4" x2="40.4" y2="341.4" stroke="#666" stroke-width="0.7"/>
<line x1="38.5" y1="342.6" x2="40.4" y2="342.6" stroke="#666" stroke-width="0.7"/>
<line x1="38.5" y1="343.5" x2="40.4" y2="343.5" stroke="#666" stroke-width="0.7"/>
<line x1="38.5" y1="344.2" x2="40.4" y2="344.2" stroke="#666" stroke-width="0.7"/>
<line x1="38.5" y1="354.5" x2="40.4" y2="354.5" stroke="#666" stroke-width="0.9"/>
<line x1="38.5" y1="360.7" x2="40.4" y2="360.7" stroke="#666" stroke-width="0.7"/>
<line x1="38.5" y1="363.3" x2="40.4" y2="363.3" stroke="#666" stroke-width="0.7"/>
<line x1="38.5" y1="364.9" x2="40.4" y2="364.9" stroke="#666" stroke-width="0.7"/>
<line x1="38.5" y1="366.2" x2="40.4" y2="366.2" stroke="#666" stroke-width="0.7"/>
<line x1="38.5" y1="367.0" x2="40.4" y2="367.0" stroke="#666" stroke-width="0.7"/>
<line x1="38.5" y1="367.8" x2="40.4" y2="367.8" stroke="#666" stroke-width="0.7"/>
<line x1="38.5" y1="378.1" x2="40.4" y2="378.1" stroke="#666" stroke-width="0.9"/>
<line x1="38.5" y1="384.2" x2="40.4" y2="384.2" stroke="#666" stroke-width="0.7"/>
<line x1="38.5" y1="386.9" x2="40.4" y2="386.9" stroke="#666" stroke-width="0.7"/>
<line x1="38.5" y1="388.5" x2="40.4" y2="388.5" stroke="#666" stroke-width="0.7"/>
<line x1="38.5" y1="389.8" x2="40.4" y2="389.8" stroke="#666" stroke-width="0.7"/>
<line x1="38.5" y1="390.6" x2="40.4" y2="390.6" stroke="#666" stroke-width="0.7"/>
<line x1="38.5" y1="391.4" x2="40.4" y2="391.4" stroke="#666" stroke-width="0.7"/>
<line x1="38.5" y1="401.6" x2="40.4" y2="401.6" stroke="#666" stroke-width="0.9"/>
<line x1="38.5" y1="407.8" x2="40.4" y2="407.8" stroke="#666" stroke-width="0.7"/>
<line x1="38.5" y1="410.5" x2="40.4" y2="410.5" stroke="#666" stroke-width="0.7"/>
<line x1="38.5" y1="412.1" x2="40.4" y2="412.1" stroke="#666" stroke-width="0.7"/>
<line x1="38.5" y1="413.3" x2="40.4" y2="413.3" stroke="#666" stroke-width="0.7"/>
<line x1="38.5" y1="414.2" x2="40.4" y2="414.2" stroke="#666" stroke-width="0.7"/>
<line x1="38.5" y1="414.9" x2="40.4" y2="414.9" stroke="#666" stroke-width="0.7"/>
<line x1="41.4" y1="420.5" x2="41.4" y2="422.2" stroke="#555" stroke-width="0.9"/>
<line x1="48.9" y1="420.5" x2="48.9" y2="422.2" stroke="#555" stroke-width="0.7"/>
<line x1="53.4" y1="420.5" x2="53.4" y2="422.2" stroke="#555" stroke-width="0.7"/>
<line x1="56.4" y1="420.5" x2="56.4" y2="422.2" stroke="#555" stroke-width="0.7"/>
<line x1="58.7" y1="420.5" x2="58.7" y2="422.2" stroke="#555" stroke-width="0.7"/>
<line x1="60.6" y1="420.5" x2="60.6" y2="422.2" stroke="#555" stroke-width="0.7"/>
<line x1="62.2" y1="420.5" x2="62.2" y2="422.2" stroke="#555" stroke-width="0.7"/>
<line x1="63.6" y1="420.5" x2="63.6" y2="422.2" stroke="#555" stroke-width="0.7"/>
<line x1="64.9" y1="420.5" x2="64.9" y2="422.2" stroke="#555" stroke-width="0.7"/>
<line x1="67.1" y1="420.5" x2="67.1" y2="422.2" stroke="#555" stroke-width="0.9"/>
<line x1="74.6" y1="420.5" x2="74.6" y2="422.2" stroke="#555" stroke-width="0.7"/>
<line x1="79.1" y1="420.5" x2="79.1" y2="422.2" stroke="#555" stroke-width="0.7"/>
<line x1="82.1" y1="420.5" x2="82.1" y2="422.2" stroke="#555" stroke-width="0.7"/>
<line x1="84.4" y1="420.5" x2="84.4" y2="422.2" stroke="#555" stroke-width="0.7"/>
<line x1="86.3" y1="420.5" x2="86.3" y2="422.2" stroke="#555" stroke-width="0.7"/>
<line x1="87.9" y1="420.5" x2="87.9" y2="422.2" stroke="#555" stroke-width="0.7"/>
<line x1="89.3" y1="420.5" x2="89.3" y2="422.2" stroke="#555" stroke-width="0.7"/>
<line x1="90.6" y1="420.5" x2="90.6" y2="422.2" stroke="#555" stroke-width="0.7"/>
<line x1="92.8" y1="420.5" x2="92.8" y2="422.2" stroke="#555" stroke-width="0.9"/>
<line x1="100.3" y1="420.5" x2="100.3" y2="422.2" stroke="#555" stroke-width="0.7"/>
<line x1="104.8" y1="420.5" x2="104.8" y2="422.2" stroke="#555" stroke-width="0.7"/>
<line x1="107.8" y1="420.5" x2="107.8" y2="422.2" stroke="#555" stroke-width="0.7"/>
<line x1="110.1" y1="420.5" x2="110.1" y2="422.2" stroke="#555" stroke-width="0.7"/>
<line x1="112.0" y1="420.5" x2="112.0" y2="422.2" stroke="#555" stroke-width="0.7"/>
<line x1="113.6" y1="420.5" x2="113.6" y2="422.2" stroke="#555" stroke-width="0.7"/>
<line x1="115.0" y1="420.5" x2="115.0" y2="422.2" stroke="#555" stroke-width="0.7"/>
<line x1="116.3" y1="420.5" x2="116.3" y2="422.2" stroke="#555" stroke-width="0.7"/>
<line x1="118.6" y1="420.5" x2="118.6" y2="422.2" stroke="#555" stroke-width="0.9"/>
<line x1="126.1" y1="420.5" x2="126.1" y2="422.2" stroke="#555" stroke-width="0.7"/>
<line x1="130.6" y1="420.5" x2="130.6" y2="422.2" stroke="#555" stroke-width="0.7"/>
<line x1="133.6" y1="420.5" x2="133.6" y2="422.2" stroke="#555" stroke-width="0.7"/>
<line x1="135.9" y1="420.5" x2="135.9" y2="422.2" stroke="#555" stroke-width="0.7"/>
<line x1="137.8" y1="420.5" x2="137.8" y2="422.2" stroke="#555" stroke-width="0.7"/>
<line x1="139.4" y1="420.5" x2="139.4" y2="422.2" stroke="#555" stroke-width="0.7"/>
<line x1="140.8" y1="420.5" x2="140.8" y2="422.2" stroke="#555" stroke-width="0.7"/>
<line x1="142.1" y1="420.5" x2="142.1" y2="422.2" stroke="#555" stroke-width="0.7"/>
<line x1="144.3" y1="420.5" x2="144.3" y2="422.2" stroke="#555" stroke-width="0.9"/>
<line x1="151.8" y1="420.5" x2="151.8" y2="422.2" stroke="#555" stroke-width="0.7"/>
<line x1="156.3" y1="420.5" x2="156.3" y2="422.2" stroke="#555" stroke-width="0.7"/>
<line x1="159.3" y1="420.5" x2="159.3" y2="422.2" stroke="#555" stroke-width="0.7"/>
<line x1="161.6" y1="420.5" x2="161.6" y2="422.2" stroke="#555" stroke-width="0.7"/>
<line x1="163.5" y1="420.5" x2="163.5" y2="422.2" stroke="#555" stroke-width="0.7"/>
<line x1="165.1" y1="420.5" x2="165.1" y2="422.2" stroke="#555" stroke-width="0.7"/>
<line x1="166.5" y1="420.5" x2="166.5" y2="422.2" stroke="#555" stroke-width="0.7"/>
<line x1="167.8" y1="420.5" x2="167.8" y2="422.2" stroke="#555" stroke-width="0.7"/>
<line x1="170.0" y1="420.5" x2="170.0" y2="422.2" stroke="#555" stroke-width="0.9"/>
<line x1="177.5" y1="420.5" x2="177.5" y2="422.2" stroke="#555" stroke-width="0.7"/>
<line x1="182.0" y1="420.5" x2="182.0" y2="422.2" stroke="#555" stroke-width="0.7"/>
<line x1="185.0" y1="420.5" x2="185.0" y2="422.2" stroke="#555" stroke-width="0.7"/>
<line x1="187.3" y1="420.5" x2="187.3" y2="422.2" stroke="#555" stroke-width="0.7"/>
<line x1="189.2" y1="420.5" x2="189.2" y2="422.2" stroke="#555" stroke-width="0.7"/>
<rect x="132.3" y="326.59999999999997" width="34.69999999999999" height="32.700000000000024" fill="none" stroke="#999" stroke-width="1.1"/>
<line x1="132.3" y1="326.2" x2="167.0" y2="326.2" stroke="#888" stroke-width="1.3"/>
<text x="127.00000000000001" y="342.9" font-size="7.5" font-weight="normal" text-anchor="end" fill="#1a1a1a">3.31</text>
<text x="114.35" y="435.6" font-size="10.6" font-weight="normal" text-anchor="middle" fill="#111" stroke="#111" stroke-width="0.2">Gag4Y IL-12</text>
<rect x="151.4" y="327.8" width="1" height="1" fill="#9a9a9a"/>
<rect x="150.9" y="356.4" width="1" height="1" fill="#9a9a9a"/>
<rect x="161.6" y="347.9" width="1" height="1" fill="#9a9a9a"/>
<rect x="142.4" y="338.0" width="1" height="1" fill="#9a9a9a"/>
<rect x="139.3" y="350.2" width="1" height="1" fill="#9a9a9a"/>
<rect x="151.0" y="350.4" width="1" height="1" fill="#9a9a9a"/>
<rect x="144.5" y="333.7" width="1" height="1" fill="#9a9a9a"/>
<rect x="160.0" y="356.5" width="1" height="1" fill="#9a9a9a"/>
<rect x="161.3" y="351.2" width="1" height="1" fill="#9a9a9a"/>
<rect x="160.2" y="349.2" width="1" height="1" fill="#9a9a9a"/>
<rect x="141.3" y="342.5" width="1" height="1" fill="#9a9a9a"/>
<rect x="145.4" y="327.9" width="1" height="1" fill="#9a9a9a"/>
<rect x="134.9" y="335.4" width="1" height="1" fill="#9a9a9a"/>
<rect x="142.3" y="347.8" width="1" height="1" fill="#9a9a9a"/>
<rect x="163.7" y="386.6" width="1" height="1" fill="#9a9a9a"/>
<rect x="163.1" y="416.3" width="1" height="1" fill="#9a9a9a"/>
<rect x="163.7" y="382.1" width="1" height="1" fill="#9a9a9a"/>
<rect x="141.6" y="374.5" width="1" height="1" fill="#9a9a9a"/>
<rect x="140.9" y="373.2" width="1" height="1" fill="#9a9a9a"/>
<rect x="153.7" y="411.5" width="1" height="1" fill="#9a9a9a"/>
<rect x="160.2" y="388.4" width="1" height="1" fill="#9a9a9a"/>
<rect x="154.6" y="406.0" width="1" height="1" fill="#9a9a9a"/>
<rect x="137.5" y="398.3" width="1" height="1" fill="#9a9a9a"/>
<rect x="162.3" y="405.0" width="1" height="1" fill="#9a9a9a"/>
<rect x="157.5" y="388.3" width="1" height="1" fill="#9a9a9a"/>
<rect x="140.4" y="405.4" width="1" height="1" fill="#9a9a9a"/>
<rect x="145.0" y="406.0" width="1" height="1" fill="#9a9a9a"/>
<rect x="164.1" y="383.8" width="1" height="1" fill="#9a9a9a"/>
<clipPath id="c3"><path d="M 146.20 341.60 C 147.94 341.60 149.95 341.96 151.18 342.71 C 152.42 343.45 153.47 344.82 153.60 346.07 C 153.74 347.32 152.74 348.98 151.99 350.19 C 151.24 351.40 150.20 352.35 149.10 353.35 C 148.00 354.36 146.78 355.98 145.41 356.21 C 144.03 356.43 142.22 355.69 140.85 354.71 C 139.47 353.73 137.69 351.80 137.17 350.31 C 136.65 348.81 137.14 347.02 137.74 345.76 C 138.34 344.49 139.36 343.43 140.77 342.74 C 142.18 342.04 144.46 341.60 146.20 341.60 Z"/></clipPath>
<path d="M 146.20 341.60 C 147.94 341.60 149.95 341.96 151.18 342.71 C 152.42 343.45 153.47 344.82 153.60 346.07 C 153.74 347.32 152.74 348.98 151.99 350.19 C 151.24 351.40 150.20 352.35 149.10 353.35 C 148.00 354.36 146.78 355.98 145.41 356.21 C 144.03 356.43 142.22 355.69 140.85 354.71 C 139.47 353.73 137.69 351.80 137.17 350.31 C 136.65 348.81 137.14 347.02 137.74 345.76 C 138.34 344.49 139.36 343.43 140.77 342.74 C 142.18 342.04 144.46 341.60 146.20 341.60 Z" fill="#e6e6e6"/>
<g clip-path="url(#c3)">
<ellipse cx="145" cy="349" rx="7" ry="6" fill="url(#rgm)"/>
</g>
<path d="M 146.20 341.60 C 147.94 341.60 149.95 341.96 151.18 342.71 C 152.42 343.45 153.47 344.82 153.60 346.07 C 153.74 347.32 152.74 348.98 151.99 350.19 C 151.24 351.40 150.20 352.35 149.10 353.35 C 148.00 354.36 146.78 355.98 145.41 356.21 C 144.03 356.43 142.22 355.69 140.85 354.71 C 139.47 353.73 137.69 351.80 137.17 350.31 C 136.65 348.81 137.14 347.02 137.74 345.76 C 138.34 344.49 139.36 343.43 140.77 342.74 C 142.18 342.04 144.46 341.60 146.20 341.60 Z" fill="none" stroke="#000" stroke-width="2.8" stroke-linejoin="round"/>
<clipPath id="c4"><path d="M 142.72 358.06 C 143.64 357.72 145.30 360.10 146.83 360.58 C 148.36 361.05 150.47 360.73 151.92 360.89 C 153.37 361.06 154.75 360.65 155.54 361.59 C 156.34 362.53 156.64 364.55 156.70 366.52 C 156.76 368.50 156.17 371.25 155.90 373.43 C 155.64 375.60 155.53 377.43 155.11 379.59 C 154.70 381.74 153.83 384.38 153.41 386.38 C 152.99 388.37 152.52 390.05 152.60 391.53 C 152.68 393.02 153.71 394.03 153.91 395.29 C 154.11 396.56 153.49 397.53 153.81 399.12 C 154.13 400.71 155.01 402.66 155.84 404.82 C 156.68 406.97 158.06 409.61 158.82 412.06 C 159.59 414.52 162.25 418.23 160.44 419.52 C 158.64 420.81 152.28 419.81 148.00 419.80 C 143.72 419.79 136.46 420.25 134.78 419.47 C 133.10 418.69 136.79 416.65 137.90 415.13 C 139.02 413.61 140.38 411.86 141.48 410.35 C 142.59 408.85 143.42 407.96 144.52 406.11 C 145.61 404.25 147.33 401.05 148.06 399.23 C 148.79 397.40 148.98 396.50 148.90 395.16 C 148.82 393.83 148.21 393.19 147.57 391.21 C 146.93 389.24 145.82 385.80 145.07 383.33 C 144.33 380.85 143.73 378.74 143.08 376.34 C 142.43 373.94 141.49 371.21 141.20 368.92 C 140.90 366.63 141.04 364.41 141.29 362.60 C 141.55 360.79 141.80 358.39 142.72 358.06 Z"/></clipPath>
<path d="M 142.72 358.06 C 143.64 357.72 145.30 360.10 146.83 360.58 C 148.36 361.05 150.47 360.73 151.92 360.89 C 153.37 361.06 154.75 360.65 155.54 361.59 C 156.34 362.53 156.64 364.55 156.70 366.52 C 156.76 368.50 156.17 371.25 155.90 373.43 C 155.64 375.60 155.53 377.43 155.11 379.59 C 154.70 381.74 153.83 384.38 153.41 386.38 C 152.99 388.37 152.52 390.05 152.60 391.53 C 152.68 393.02 153.71 394.03 153.91 395.29 C 154.11 396.56 153.49 397.53 153.81 399.12 C 154.13 400.71 155.01 402.66 155.84 404.82 C 156.68 406.97 158.06 409.61 158.82 412.06 C 159.59 414.52 162.25 418.23 160.44 419.52 C 158.64 420.81 152.28 419.81 148.00 419.80 C 143.72 419.79 136.46 420.25 134.78 419.47 C 133.10 418.69 136.79 416.65 137.90 415.13 C 139.02 413.61 140.38 411.86 141.48 410.35 C 142.59 408.85 143.42 407.96 144.52 406.11 C 145.61 404.25 147.33 401.05 148.06 399.23 C 148.79 397.40 148.98 396.50 148.90 395.16 C 148.82 393.83 148.21 393.19 147.57 391.21 C 146.93 389.24 145.82 385.80 145.07 383.33 C 144.33 380.85 143.73 378.74 143.08 376.34 C 142.43 373.94 141.49 371.21 141.20 368.92 C 140.90 366.63 141.04 364.41 141.29 362.60 C 141.55 360.79 141.80 358.39 142.72 358.06 Z" fill="#e6e6e6"/>
<g clip-path="url(#c4)">
<ellipse cx="149.5" cy="370" rx="6" ry="11" fill="url(#rgm)"/>
<ellipse cx="148" cy="420" rx="13" ry="14" fill="url(#rgd)"/>
</g>
<clipPath id="c4b"><rect x="0" y="0" width="520" height="419.2"/></clipPath>
<path d="M 142.72 358.06 C 143.64 357.72 145.30 360.10 146.83 360.58 C 148.36 361.05 150.47 360.73 151.92 360.89 C 153.37 361.06 154.75 360.65 155.54 361.59 C 156.34 362.53 156.64 364.55 156.70 366.52 C 156.76 368.50 156.17 371.25 155.90 373.43 C 155.64 375.60 155.53 377.43 155.11 379.59 C 154.70 381.74 153.83 384.38 153.41 386.38 C 152.99 388.37 152.52 390.05 152.60 391.53 C 152.68 393.02 153.71 394.03 153.91 395.29 C 154.11 396.56 153.49 397.53 153.81 399.12 C 154.13 400.71 155.01 402.66 155.84 404.82 C 156.68 406.97 158.06 409.61 158.82 412.06 C 159.59 414.52 162.25 418.23 160.44 419.52 C 158.64 420.81 152.28 419.81 148.00 419.80 C 143.72 419.79 136.46 420.25 134.78 419.47 C 133.10 418.69 136.79 416.65 137.90 415.13 C 139.02 413.61 140.38 411.86 141.48 410.35 C 142.59 408.85 143.42 407.96 144.52 406.11 C 145.61 404.25 147.33 401.05 148.06 399.23 C 148.79 397.40 148.98 396.50 148.90 395.16 C 148.82 393.83 148.21 393.19 147.57 391.21 C 146.93 389.24 145.82 385.80 145.07 383.33 C 144.33 380.85 143.73 378.74 143.08 376.34 C 142.43 373.94 141.49 371.21 141.20 368.92 C 140.90 366.63 141.04 364.41 141.29 362.60 C 141.55 360.79 141.80 358.39 142.72 358.06 Z" fill="none" stroke="#000" stroke-width="2.6999999999999997" stroke-linejoin="round" clip-path="url(#c4b)"/>
<line x1="133.0" y1="420.2" x2="168.9" y2="420.2" stroke="#1a1a1a" stroke-width="1.6"/>
<circle cx="151.2" cy="395.2" r="1.7" fill="#f4f4f4"/>
<line x1="223.3" y1="326.1" x2="374.8" y2="326.1" stroke="#b8b8b8" stroke-width="1.2"/>
<line x1="374.8" y1="326.1" x2="374.8" y2="418.6" stroke="#c4c4c4" stroke-width="1.2"/>
<line x1="223.3" y1="326.1" x2="223.3" y2="418.6" stroke="#b8b8b8" stroke-width="1"/>
<line x1="223.3" y1="418.6" x2="374.8" y2="418.6" stroke="#7a7a7a" stroke-width="1.2"/>
<line x1="221.4" y1="330.7" x2="223.3" y2="330.7" stroke="#666" stroke-width="0.9"/>
<line x1="221.4" y1="336.9" x2="223.3" y2="336.9" stroke="#666" stroke-width="0.7"/>
<line x1="221.4" y1="339.6" x2="223.3" y2="339.6" stroke="#666" stroke-width="0.7"/>
<line x1="221.4" y1="341.2" x2="223.3" y2="341.2" stroke="#666" stroke-width="0.7"/>
<line x1="221.4" y1="342.4" x2="223.3" y2="342.4" stroke="#666" stroke-width="0.7"/>
<line x1="221.4" y1="343.3" x2="223.3" y2="343.3" stroke="#666" stroke-width="0.7"/>
<line x1="221.4" y1="344.0" x2="223.3" y2="344.0" stroke="#666" stroke-width="0.7"/>
<line x1="221.4" y1="353.9" x2="223.3" y2="353.9" stroke="#666" stroke-width="0.9"/>
<line x1="221.4" y1="360.0" x2="223.3" y2="360.0" stroke="#666" stroke-width="0.7"/>
<line x1="221.4" y1="362.7" x2="223.3" y2="362.7" stroke="#666" stroke-width="0.7"/>
<line x1="221.4" y1="364.3" x2="223.3" y2="364.3" stroke="#666" stroke-width="0.7"/>
<line x1="221.4" y1="365.5" x2="223.3" y2="365.5" stroke="#666" stroke-width="0.7"/>
<line x1="221.4" y1="366.4" x2="223.3" y2="366.4" stroke="#666" stroke-width="0.7"/>
<line x1="221.4" y1="367.2" x2="223.3" y2="367.2" stroke="#666" stroke-width="0.7"/>
<line x1="221.4" y1="377.0" x2="223.3" y2="377.0" stroke="#666" stroke-width="0.9"/>
<line x1="221.4" y1="383.2" x2="223.3" y2="383.2" stroke="#666" stroke-width="0.7"/>
<line x1="221.4" y1="385.8" x2="223.3" y2="385.8" stroke="#666" stroke-width="0.7"/>
<line x1="221.4" y1="387.4" x2="223.3" y2="387.4" stroke="#666" stroke-width="0.7"/>
<line x1="221.4" y1="388.7" x2="223.3" y2="388.7" stroke="#666" stroke-width="0.7"/>
<line x1="221.4" y1="389.5" x2="223.3" y2="389.5" stroke="#666" stroke-width="0.7"/>
<line x1="221.4" y1="390.3" x2="223.3" y2="390.3" stroke="#666" stroke-width="0.7"/>
<line x1="221.4" y1="400.1" x2="223.3" y2="400.1" stroke="#666" stroke-width="0.9"/>
<line x1="221.4" y1="406.3" x2="223.3" y2="406.3" stroke="#666" stroke-width="0.7"/>
<line x1="221.4" y1="408.9" x2="223.3" y2="408.9" stroke="#666" stroke-width="0.7"/>
<line x1="221.4" y1="410.6" x2="223.3" y2="410.6" stroke="#666" stroke-width="0.7"/>
<line x1="221.4" y1="411.8" x2="223.3" y2="411.8" stroke="#666" stroke-width="0.7"/>
<line x1="221.4" y1="412.6" x2="223.3" y2="412.6" stroke="#666" stroke-width="0.7"/>
<line x1="221.4" y1="413.4" x2="223.3" y2="413.4" stroke="#666" stroke-width="0.7"/>
<line x1="224.3" y1="418.6" x2="224.3" y2="420.3" stroke="#555" stroke-width="0.9"/>
<line x1="231.8" y1="418.6" x2="231.8" y2="420.3" stroke="#555" stroke-width="0.7"/>
<line x1="236.3" y1="418.6" x2="236.3" y2="420.3" stroke="#555" stroke-width="0.7"/>
<line x1="239.3" y1="418.6" x2="239.3" y2="420.3" stroke="#555" stroke-width="0.7"/>
<line x1="241.6" y1="418.6" x2="241.6" y2="420.3" stroke="#555" stroke-width="0.7"/>
<line x1="243.5" y1="418.6" x2="243.5" y2="420.3" stroke="#555" stroke-width="0.7"/>
<line x1="245.1" y1="418.6" x2="245.1" y2="420.3" stroke="#555" stroke-width="0.7"/>
<line x1="246.5" y1="418.6" x2="246.5" y2="420.3" stroke="#555" stroke-width="0.7"/>
<line x1="247.8" y1="418.6" x2="247.8" y2="420.3" stroke="#555" stroke-width="0.7"/>
<line x1="250.1" y1="418.6" x2="250.1" y2="420.3" stroke="#555" stroke-width="0.9"/>
<line x1="257.6" y1="418.6" x2="257.6" y2="420.3" stroke="#555" stroke-width="0.7"/>
<line x1="262.1" y1="418.6" x2="262.1" y2="420.3" stroke="#555" stroke-width="0.7"/>
<line x1="265.1" y1="418.6" x2="265.1" y2="420.3" stroke="#555" stroke-width="0.7"/>
<line x1="267.4" y1="418.6" x2="267.4" y2="420.3" stroke="#555" stroke-width="0.7"/>
<line x1="269.3" y1="418.6" x2="269.3" y2="420.3" stroke="#555" stroke-width="0.7"/>
<line x1="270.9" y1="418.6" x2="270.9" y2="420.3" stroke="#555" stroke-width="0.7"/>
<line x1="272.3" y1="418.6" x2="272.3" y2="420.3" stroke="#555" stroke-width="0.7"/>
<line x1="273.6" y1="418.6" x2="273.6" y2="420.3" stroke="#555" stroke-width="0.7"/>
<line x1="275.8" y1="418.6" x2="275.8" y2="420.3" stroke="#555" stroke-width="0.9"/>
<line x1="283.3" y1="418.6" x2="283.3" y2="420.3" stroke="#555" stroke-width="0.7"/>
<line x1="287.8" y1="418.6" x2="287.8" y2="420.3" stroke="#555" stroke-width="0.7"/>
<line x1="290.8" y1="418.6" x2="290.8" y2="420.3" stroke="#555" stroke-width="0.7"/>
<line x1="293.1" y1="418.6" x2="293.1" y2="420.3" stroke="#555" stroke-width="0.7"/>
<line x1="295.0" y1="418.6" x2="295.0" y2="420.3" stroke="#555" stroke-width="0.7"/>
<line x1="296.6" y1="418.6" x2="296.6" y2="420.3" stroke="#555" stroke-width="0.7"/>
<line x1="298.0" y1="418.6" x2="298.0" y2="420.3" stroke="#555" stroke-width="0.7"/>
<line x1="299.3" y1="418.6" x2="299.3" y2="420.3" stroke="#555" stroke-width="0.7"/>
<line x1="301.6" y1="418.6" x2="301.6" y2="420.3" stroke="#555" stroke-width="0.9"/>
<line x1="309.1" y1="418.6" x2="309.1" y2="420.3" stroke="#555" stroke-width="0.7"/>
<line x1="313.6" y1="418.6" x2="313.6" y2="420.3" stroke="#555" stroke-width="0.7"/>
<line x1="316.6" y1="418.6" x2="316.6" y2="420.3" stroke="#555" stroke-width="0.7"/>
<line x1="318.9" y1="418.6" x2="318.9" y2="420.3" stroke="#555" stroke-width="0.7"/>
<line x1="320.8" y1="418.6" x2="320.8" y2="420.3" stroke="#555" stroke-width="0.7"/>
<line x1="322.4" y1="418.6" x2="322.4" y2="420.3" stroke="#555" stroke-width="0.7"/>
<line x1="323.8" y1="418.6" x2="323.8" y2="420.3" stroke="#555" stroke-width="0.7"/>
<line x1="325.1" y1="418.6" x2="325.1" y2="420.3" stroke="#555" stroke-width="0.7"/>
<line x1="327.3" y1="418.6" x2="327.3" y2="420.3" stroke="#555" stroke-width="0.9"/>
<line x1="334.8" y1="418.6" x2="334.8" y2="420.3" stroke="#555" stroke-width="0.7"/>
<line x1="339.3" y1="418.6" x2="339.3" y2="420.3" stroke="#555" stroke-width="0.7"/>
<line x1="342.3" y1="418.6" x2="342.3" y2="420.3" stroke="#555" stroke-width="0.7"/>
<line x1="344.6" y1="418.6" x2="344.6" y2="420.3" stroke="#555" stroke-width="0.7"/>
<line x1="346.5" y1="418.6" x2="346.5" y2="420.3" stroke="#555" stroke-width="0.7"/>
<line x1="348.1" y1="418.6" x2="348.1" y2="420.3" stroke="#555" stroke-width="0.7"/>
<line x1="349.5" y1="418.6" x2="349.5" y2="420.3" stroke="#555" stroke-width="0.7"/>
<line x1="350.8" y1="418.6" x2="350.8" y2="420.3" stroke="#555" stroke-width="0.7"/>
<line x1="353.1" y1="418.6" x2="353.1" y2="420.3" stroke="#555" stroke-width="0.9"/>
<line x1="360.6" y1="418.6" x2="360.6" y2="420.3" stroke="#555" stroke-width="0.7"/>
<line x1="365.1" y1="418.6" x2="365.1" y2="420.3" stroke="#555" stroke-width="0.7"/>
<line x1="368.1" y1="418.6" x2="368.1" y2="420.3" stroke="#555" stroke-width="0.7"/>
<line x1="370.4" y1="418.6" x2="370.4" y2="420.3" stroke="#555" stroke-width="0.7"/>
<line x1="372.3" y1="418.6" x2="372.3" y2="420.3" stroke="#555" stroke-width="0.7"/>
<rect x="315.2" y="326.5" width="35.30000000000001" height="30.49999999999998" fill="none" stroke="#999" stroke-width="1.1"/>
<line x1="315.2" y1="326.1" x2="350.5" y2="326.1" stroke="#888" stroke-width="1.3"/>
<text x="309.9" y="342.5" font-size="7.5" font-weight="normal" text-anchor="end" fill="#1a1a1a">3.47</text>
<text x="298.4" y="434.2" font-size="10.6" font-weight="normal" text-anchor="middle" fill="#111" stroke="#111" stroke-width="0.2">Gag4Y IL-28</text>
<rect x="329.8" y="353.5" width="1" height="1" fill="#9a9a9a"/>
<rect x="340.2" y="331.8" width="1" height="1" fill="#9a9a9a"/>
<rect x="321.1" y="331.2" width="1" height="1" fill="#9a9a9a"/>
<rect x="346.0" y="349.6" width="1" height="1" fill="#9a9a9a"/>
<rect x="321.7" y="350.1" width="1" height="1" fill="#9a9a9a"/>
<rect x="348.4" y="345.4" width="1" height="1" fill="#9a9a9a"/>
<rect x="328.2" y="342.4" width="1" height="1" fill="#9a9a9a"/>
<rect x="321.2" y="327.4" width="1" height="1" fill="#9a9a9a"/>
<rect x="348.1" y="345.2" width="1" height="1" fill="#9a9a9a"/>
<rect x="333.9" y="353.1" width="1" height="1" fill="#9a9a9a"/>
<rect x="330.9" y="351.4" width="1" height="1" fill="#9a9a9a"/>
<rect x="343.4" y="332.9" width="1" height="1" fill="#9a9a9a"/>
<rect x="325.1" y="335.2" width="1" height="1" fill="#9a9a9a"/>
<rect x="324.7" y="343.4" width="1" height="1" fill="#9a9a9a"/>
<rect x="325.3" y="338.7" width="1" height="1" fill="#9a9a9a"/>
<rect x="321.2" y="352.5" width="1" height="1" fill="#9a9a9a"/>
<rect x="328.6" y="385.7" width="1" height="1" fill="#9a9a9a"/>
<rect x="335.5" y="410.6" width="1" height="1" fill="#9a9a9a"/>
<rect x="330.6" y="411.4" width="1" height="1" fill="#9a9a9a"/>
<rect x="333.0" y="389.8" width="1" height="1" fill="#9a9a9a"/>
<rect x="333.7" y="361.0" width="1" height="1" fill="#9a9a9a"/>
<rect x="331.2" y="370.3" width="1" height="1" fill="#9a9a9a"/>
<rect x="318.1" y="404.8" width="1" height="1" fill="#9a9a9a"/>
<rect x="323.2" y="386.5" width="1" height="1" fill="#9a9a9a"/>
<rect x="339.8" y="391.2" width="1" height="1" fill="#9a9a9a"/>
<rect x="327.8" y="389.0" width="1" height="1" fill="#9a9a9a"/>
<rect x="334.7" y="403.9" width="1" height="1" fill="#9a9a9a"/>
<rect x="321.2" y="391.4" width="1" height="1" fill="#9a9a9a"/>
<rect x="325.5" y="375.5" width="1" height="1" fill="#9a9a9a"/>
<rect x="341.2" y="388.4" width="1" height="1" fill="#9a9a9a"/>
<clipPath id="c5"><path d="M 328.52 343.40 C 330.19 343.35 332.67 343.50 334.29 344.06 C 335.91 344.62 337.93 345.76 338.22 346.76 C 338.52 347.77 337.05 349.06 336.06 350.10 C 335.06 351.13 333.84 352.21 332.24 352.96 C 330.65 353.71 328.20 354.48 326.46 354.60 C 324.72 354.72 322.91 354.33 321.81 353.69 C 320.72 353.04 320.03 351.88 319.90 350.72 C 319.76 349.56 320.27 347.80 321.00 346.73 C 321.72 345.67 322.99 344.90 324.25 344.35 C 325.50 343.79 326.84 343.45 328.52 343.40 Z"/></clipPath>
<path d="M 328.52 343.40 C 330.19 343.35 332.67 343.50 334.29 344.06 C 335.91 344.62 337.93 345.76 338.22 346.76 C 338.52 347.77 337.05 349.06 336.06 350.10 C 335.06 351.13 333.84 352.21 332.24 352.96 C 330.65 353.71 328.20 354.48 326.46 354.60 C 324.72 354.72 322.91 354.33 321.81 353.69 C 320.72 353.04 320.03 351.88 319.90 350.72 C 319.76 349.56 320.27 347.80 321.00 346.73 C 321.72 345.67 322.99 344.90 324.25 344.35 C 325.50 343.79 326.84 343.45 328.52 343.40 Z" fill="#e6e6e6"/>
<g clip-path="url(#c5)">
<ellipse cx="329" cy="349" rx="7" ry="5.5" fill="url(#rgm)"/>
</g>
<path d="M 328.52 343.40 C 330.19 343.35 332.67 343.50 334.29 344.06 C 335.91 344.62 337.93 345.76 338.22 346.76 C 338.52 347.77 337.05 349.06 336.06 350.10 C 335.06 351.13 333.84 352.21 332.24 352.96 C 330.65 353.71 328.20 354.48 326.46 354.60 C 324.72 354.72 322.91 354.33 321.81 353.69 C 320.72 353.04 320.03 351.88 319.90 350.72 C 319.76 349.56 320.27 347.80 321.00 346.73 C 321.72 345.67 322.99 344.90 324.25 344.35 C 325.50 343.79 326.84 343.45 328.52 343.40 Z" fill="none" stroke="#000" stroke-width="2.8" stroke-linejoin="round"/>
<clipPath id="c6"><path d="M 325.68 356.57 C 326.74 356.25 328.11 358.38 329.32 358.77 C 330.54 359.17 331.38 358.33 332.98 358.96 C 334.57 359.58 337.67 360.52 338.89 362.51 C 340.11 364.51 340.31 367.81 340.30 370.90 C 340.29 373.99 339.42 378.18 338.81 381.08 C 338.20 383.98 337.34 386.34 336.64 388.30 C 335.93 390.25 334.60 391.39 334.60 392.80 C 334.60 394.21 335.94 394.98 336.64 396.73 C 337.35 398.47 338.10 400.97 338.83 403.28 C 339.56 405.59 340.26 408.16 341.02 410.57 C 341.79 412.98 345.10 416.49 343.43 417.73 C 341.76 418.96 335.14 418.00 331.00 418.00 C 326.86 418.00 320.13 418.96 318.59 417.74 C 317.04 416.52 320.49 412.82 321.73 410.68 C 322.97 408.55 324.68 407.10 326.01 404.91 C 327.35 402.72 328.82 399.62 329.75 397.55 C 330.68 395.47 331.72 394.50 331.60 392.46 C 331.48 390.43 330.20 388.00 329.05 385.36 C 327.89 382.72 325.76 379.76 324.67 376.60 C 323.58 373.45 322.78 369.09 322.50 366.44 C 322.21 363.79 322.44 362.34 322.97 360.69 C 323.50 359.05 324.63 356.89 325.68 356.57 Z"/></clipPath>
<path d="M 325.68 356.57 C 326.74 356.25 328.11 358.38 329.32 358.77 C 330.54 359.17 331.38 358.33 332.98 358.96 C 334.57 359.58 337.67 360.52 338.89 362.51 C 340.11 364.51 340.31 367.81 340.30 370.90 C 340.29 373.99 339.42 378.18 338.81 381.08 C 338.20 383.98 337.34 386.34 336.64 388.30 C 335.93 390.25 334.60 391.39 334.60 392.80 C 334.60 394.21 335.94 394.98 336.64 396.73 C 337.35 398.47 338.10 400.97 338.83 403.28 C 339.56 405.59 340.26 408.16 341.02 410.57 C 341.79 412.98 345.10 416.49 343.43 417.73 C 341.76 418.96 335.14 418.00 331.00 418.00 C 326.86 418.00 320.13 418.96 318.59 417.74 C 317.04 416.52 320.49 412.82 321.73 410.68 C 322.97 408.55 324.68 407.10 326.01 404.91 C 327.35 402.72 328.82 399.62 329.75 397.55 C 330.68 395.47 331.72 394.50 331.60 392.46 C 331.48 390.43 330.20 388.00 329.05 385.36 C 327.89 382.72 325.76 379.76 324.67 376.60 C 323.58 373.45 322.78 369.09 322.50 366.44 C 322.21 363.79 322.44 362.34 322.97 360.69 C 323.50 359.05 324.63 356.89 325.68 356.57 Z" fill="#e6e6e6"/>
<g clip-path="url(#c6)">
<ellipse cx="331" cy="371" rx="7" ry="11" fill="url(#rgm)"/>
<ellipse cx="331" cy="418" rx="13" ry="14" fill="url(#rgd)"/>
</g>
<clipPath id="c6b"><rect x="0" y="0" width="520" height="417.3"/></clipPath>
<path d="M 325.68 356.57 C 326.74 356.25 328.11 358.38 329.32 358.77 C 330.54 359.17 331.38 358.33 332.98 358.96 C 334.57 359.58 337.67 360.52 338.89 362.51 C 340.11 364.51 340.31 367.81 340.30 370.90 C 340.29 373.99 339.42 378.18 338.81 381.08 C 338.20 383.98 337.34 386.34 336.64 388.30 C 335.93 390.25 334.60 391.39 334.60 392.80 C 334.60 394.21 335.94 394.98 336.64 396.73 C 337.35 398.47 338.10 400.97 338.83 403.28 C 339.56 405.59 340.26 408.16 341.02 410.57 C 341.79 412.98 345.10 416.49 343.43 417.73 C 341.76 418.96 335.14 418.00 331.00 418.00 C 326.86 418.00 320.13 418.96 318.59 417.74 C 317.04 416.52 320.49 412.82 321.73 410.68 C 322.97 408.55 324.68 407.10 326.01 404.91 C 327.35 402.72 328.82 399.62 329.75 397.55 C 330.68 395.47 331.72 394.50 331.60 392.46 C 331.48 390.43 330.20 388.00 329.05 385.36 C 327.89 382.72 325.76 379.76 324.67 376.60 C 323.58 373.45 322.78 369.09 322.50 366.44 C 322.21 363.79 322.44 362.34 322.97 360.69 C 323.50 359.05 324.63 356.89 325.68 356.57 Z" fill="none" stroke="#000" stroke-width="2.6999999999999997" stroke-linejoin="round" clip-path="url(#c6b)"/>
<line x1="316.8" y1="418.3" x2="350.4" y2="418.3" stroke="#1a1a1a" stroke-width="1.6"/>
<path d="M 20.1 438.6 L 20.1 208" stroke="#000" stroke-width="2.8" fill="none"/>
<polygon points="20.1,202.5 24,210 16.2,210" fill="#000"/>
<path d="M 18.7 439.9 L 376 439.9" stroke="#000" stroke-width="2.8" fill="none"/>
<polygon points="382,440 374.4,436.5 374.4,443.5" fill="#000"/>
<text x="11.0" y="306.6" font-size="13.7" font-weight="bold" text-anchor="middle" transform="rotate(-90 11.0 306.6)" fill="#111">Perforin</text>
<text x="202.5" y="455.7" font-size="13.7" font-weight="bold" text-anchor="middle" fill="#111">CD8</text>
<line x1="28.7" y1="502.6" x2="28.7" y2="608.3" stroke="#111" stroke-width="1.7"/>
<line x1="25.7" y1="608.3" x2="28.7" y2="608.3" stroke="#111" stroke-width="1.7"/>
<text transform="translate(25.40 611.20) scale(0.84 1)" font-size="8.3" font-weight="bold" text-anchor="end" fill="#111">0</text>
<line x1="25.7" y1="590.6833333333333" x2="28.7" y2="590.6833333333333" stroke="#111" stroke-width="1.7"/>
<text transform="translate(25.40 593.58) scale(0.84 1)" font-size="8.3" font-weight="bold" text-anchor="end" fill="#111">1</text>
<line x1="25.7" y1="573.0666666666666" x2="28.7" y2="573.0666666666666" stroke="#111" stroke-width="1.7"/>
<text transform="translate(25.40 575.97) scale(0.84 1)" font-size="8.3" font-weight="bold" text-anchor="end" fill="#111">2</text>
<line x1="25.7" y1="555.45" x2="28.7" y2="555.45" stroke="#111" stroke-width="1.7"/>
<text transform="translate(25.40 558.35) scale(0.84 1)" font-size="8.3" font-weight="bold" text-anchor="end" fill="#111">3</text>
<line x1="25.7" y1="537.8333333333334" x2="28.7" y2="537.8333333333334" stroke="#111" stroke-width="1.7"/>
<text transform="translate(25.40 540.73) scale(0.84 1)" font-size="8.3" font-weight="bold" text-anchor="end" fill="#111">4</text>
<line x1="25.7" y1="520.2166666666667" x2="28.7" y2="520.2166666666667" stroke="#111" stroke-width="1.7"/>
<text transform="translate(25.40 523.12) scale(0.84 1)" font-size="8.3" font-weight="bold" text-anchor="end" fill="#111">5</text>
<line x1="25.7" y1="502.6" x2="28.7" y2="502.6" stroke="#111" stroke-width="1.7"/>
<text transform="translate(25.40 505.50) scale(0.84 1)" font-size="8.3" font-weight="bold" text-anchor="end" fill="#111">6</text>
<line x1="41.25" y1="584.8" x2="41.25" y2="583" stroke="#111" stroke-width="1.7"/>
<line x1="37.95" y1="583" x2="44.55" y2="583" stroke="#111" stroke-width="1.8"/>
<rect x="36.25" y="585.6999999999999" width="10.0" height="22.6" fill="url(#pv)" stroke="#111" stroke-width="1.8"/>
<line x1="56.3" y1="579.1" x2="56.3" y2="576.4" stroke="#111" stroke-width="1.7"/>
<line x1="53.0" y1="576.4" x2="59.599999999999994" y2="576.4" stroke="#111" stroke-width="1.8"/>
<rect x="51.55" y="580.0" width="9.5" height="28.299999999999933" fill="url(#pv)" stroke="#111" stroke-width="1.8"/>
<line x1="81.1" y1="583.4" x2="81.1" y2="580.6" stroke="#111" stroke-width="1.7"/>
<line x1="77.8" y1="580.6" x2="84.39999999999999" y2="580.6" stroke="#111" stroke-width="1.8"/>
<rect x="76.25" y="584.3" width="9.700000000000003" height="23.99999999999998" fill="url(#gy)" stroke="#111" stroke-width="1.8"/>
<line x1="96.0" y1="567.5" x2="96.0" y2="563.7" stroke="#111" stroke-width="1.7"/>
<line x1="92.7" y1="563.7" x2="99.3" y2="563.7" stroke="#111" stroke-width="1.8"/>
<rect x="91.25" y="568.4" width="9.5" height="39.899999999999956" fill="url(#gy)" stroke="#111" stroke-width="1.8"/>
<line x1="121.1" y1="582.8" x2="121.1" y2="580.5" stroke="#111" stroke-width="1.7"/>
<line x1="117.8" y1="580.5" x2="124.39999999999999" y2="580.5" stroke="#111" stroke-width="1.8"/>
<rect x="116.25" y="583.6999999999999" width="9.700000000000003" height="24.6" fill="url(#h12)" stroke="#111" stroke-width="1.8"/>
<line x1="136.1" y1="547.3" x2="136.1" y2="544" stroke="#111" stroke-width="1.7"/>
<line x1="132.79999999999998" y1="544" x2="139.4" y2="544" stroke="#111" stroke-width="1.8"/>
<rect x="131.35" y="548.1999999999999" width="9.5" height="60.1" fill="url(#h12)" stroke="#111" stroke-width="1.8"/>
<line x1="160.9" y1="582.6" x2="160.9" y2="579.6" stroke="#111" stroke-width="1.7"/>
<line x1="157.6" y1="579.6" x2="164.20000000000002" y2="579.6" stroke="#111" stroke-width="1.8"/>
<rect x="156.15" y="583.5" width="9.5" height="24.799999999999933" fill="url(#v28c)" stroke="#111" stroke-width="1.8"/>
<line x1="176.0" y1="537.4" x2="176.0" y2="530" stroke="#111" stroke-width="1.7"/>
<line x1="172.7" y1="530" x2="179.3" y2="530" stroke="#111" stroke-width="1.8"/>
<rect x="171.25" y="538.3" width="9.5" height="69.99999999999997" fill="url(#v28c)" stroke="#111" stroke-width="1.8"/>
<line x1="28.7" y1="608.3" x2="189" y2="608.3" stroke="#111" stroke-width="1.7"/>
<line x1="41.25" y1="608.3" x2="41.25" y2="611.3" stroke="#111" stroke-width="1.7"/>
<text x="43.45" y="620.3" font-size="8.0" font-weight="bold" text-anchor="end" transform="rotate(-45 43.45 620.3)" fill="#111">NP</text>
<line x1="56.3" y1="608.3" x2="56.3" y2="611.3" stroke="#111" stroke-width="1.7"/>
<text x="58.5" y="620.3" font-size="8.0" font-weight="bold" text-anchor="end" transform="rotate(-45 58.5 620.3)" fill="#111">Peptide</text>
<line x1="81.1" y1="608.3" x2="81.1" y2="611.3" stroke="#111" stroke-width="1.7"/>
<text x="83.3" y="620.3" font-size="8.0" font-weight="bold" text-anchor="end" transform="rotate(-45 83.3 620.3)" fill="#111">NP</text>
<line x1="96.0" y1="608.3" x2="96.0" y2="611.3" stroke="#111" stroke-width="1.7"/>
<text x="98.2" y="620.3" font-size="8.0" font-weight="bold" text-anchor="end" transform="rotate(-45 98.2 620.3)" fill="#111">Peptide</text>
<line x1="121.1" y1="608.3" x2="121.1" y2="611.3" stroke="#111" stroke-width="1.7"/>
<text x="123.3" y="620.3" font-size="8.0" font-weight="bold" text-anchor="end" transform="rotate(-45 123.3 620.3)" fill="#111">NP</text>
<line x1="136.1" y1="608.3" x2="136.1" y2="611.3" stroke="#111" stroke-width="1.7"/>
<text x="138.29999999999998" y="620.3" font-size="8.0" font-weight="bold" text-anchor="end" transform="rotate(-45 138.29999999999998 620.3)" fill="#111">Peptide</text>
<line x1="160.9" y1="608.3" x2="160.9" y2="611.3" stroke="#111" stroke-width="1.7"/>
<text x="163.1" y="620.3" font-size="8.0" font-weight="bold" text-anchor="end" transform="rotate(-45 163.1 620.3)" fill="#111">NP</text>
<line x1="176.0" y1="608.3" x2="176.0" y2="611.3" stroke="#111" stroke-width="1.7"/>
<text x="178.2" y="620.3" font-size="8.0" font-weight="bold" text-anchor="end" transform="rotate(-45 178.2 620.3)" fill="#111">Peptide</text>
<text x="11.9" y="608.2" font-size="8.5" font-weight="bold" text-anchor="start" transform="rotate(-90 11.9 608.2)" fill="#111">% Perforin</text>
<text x="7.7" y="564.4" font-size="6.2" font-weight="bold" text-anchor="start" transform="rotate(-90 7.7 564.4)" fill="#111">hi</text>
<text x="11.9" y="553.0" font-size="8.5" font-weight="bold" text-anchor="start" transform="rotate(-90 11.9 553.0)" fill="#111">CD8</text>
<text x="11.9" y="530.2" font-size="8.5" font-weight="bold" text-anchor="start" transform="rotate(-90 11.9 530.2)" fill="#111">T Cells</text>
<text transform="translate(136.85 541.6) scale(0.86 1)" font-size="8.0" font-weight="bold" text-anchor="middle" fill="#111"><tspan font-style="italic">P</tspan> &lt; .05</text>
<text transform="translate(176.3 527.6) scale(0.86 1)" font-size="8.0" font-weight="bold" text-anchor="middle" fill="#111"><tspan font-style="italic">P</tspan> &lt; .05</text>
<rect x="40.2" y="487.4" width="11.9" height="5.2" fill="url(#pv)" stroke="#111" stroke-width="2.0"/>
<text x="57.5" y="493.2" font-size="8.8" font-weight="normal" text-anchor="start" fill="#111" stroke="#111" stroke-width="0.15">pVAX</text>
<rect x="40.2" y="497.75" width="11.9" height="5.2" fill="url(#gy)" stroke="#111" stroke-width="2.0"/>
<text x="57.5" y="503.55" font-size="8.8" font-weight="normal" text-anchor="start" fill="#111" stroke="#111" stroke-width="0.15">Gag4Y</text>
<rect x="40.2" y="507.75" width="11.9" height="5.2" fill="url(#h12)" stroke="#111" stroke-width="2.0"/>
<text x="57.5" y="513.5500000000001" font-size="8.8" font-weight="normal" text-anchor="start" fill="#111" stroke="#111" stroke-width="0.15">Gag4Y IL-12</text>
<rect x="40.2" y="519.35" width="11.9" height="5.2" fill="url(#v28c)" stroke="#111" stroke-width="2.0"/>
<text x="57.5" y="525.1500000000001" font-size="8.8" font-weight="normal" text-anchor="start" fill="#111" stroke="#111" stroke-width="0.15">Gag4Y IL-28</text>
<line x1="233.4" y1="502" x2="233.4" y2="607.3" stroke="#111" stroke-width="1.7"/>
<line x1="230.4" y1="607.3" x2="233.4" y2="607.3" stroke="#111" stroke-width="1.7"/>
<text transform="translate(230.10 610.20) scale(0.84 1)" font-size="8.3" font-weight="bold" text-anchor="end" fill="#111">0</text>
<line x1="230.4" y1="592.2571428571429" x2="233.4" y2="592.2571428571429" stroke="#111" stroke-width="1.7"/>
<text transform="translate(230.10 595.16) scale(0.84 1)" font-size="8.3" font-weight="bold" text-anchor="end" fill="#111">1</text>
<line x1="230.4" y1="577.2142857142857" x2="233.4" y2="577.2142857142857" stroke="#111" stroke-width="1.7"/>
<text transform="translate(230.10 580.11) scale(0.84 1)" font-size="8.3" font-weight="bold" text-anchor="end" fill="#111">2</text>
<line x1="230.4" y1="562.1714285714286" x2="233.4" y2="562.1714285714286" stroke="#111" stroke-width="1.7"/>
<text transform="translate(230.10 565.07) scale(0.84 1)" font-size="8.3" font-weight="bold" text-anchor="end" fill="#111">3</text>
<line x1="230.4" y1="547.1285714285714" x2="233.4" y2="547.1285714285714" stroke="#111" stroke-width="1.7"/>
<text transform="translate(230.10 550.03) scale(0.84 1)" font-size="8.3" font-weight="bold" text-anchor="end" fill="#111">4</text>
<line x1="230.4" y1="532.0857142857143" x2="233.4" y2="532.0857142857143" stroke="#111" stroke-width="1.7"/>
<text transform="translate(230.10 534.99) scale(0.84 1)" font-size="8.3" font-weight="bold" text-anchor="end" fill="#111">5</text>
<line x1="230.4" y1="517.0428571428572" x2="233.4" y2="517.0428571428572" stroke="#111" stroke-width="1.7"/>
<text transform="translate(230.10 519.94) scale(0.84 1)" font-size="8.3" font-weight="bold" text-anchor="end" fill="#111">6</text>
<line x1="230.4" y1="502.0" x2="233.4" y2="502.0" stroke="#111" stroke-width="1.7"/>
<text transform="translate(230.10 504.90) scale(0.84 1)" font-size="8.3" font-weight="bold" text-anchor="end" fill="#111">7</text>
<line x1="233.4" y1="607.3" x2="391" y2="607.3" stroke="#111" stroke-width="1.7"/>
<line x1="260" y1="607.3" x2="260" y2="610.3" stroke="#111" stroke-width="1.7"/>
<text x="262.3" y="619.8" font-size="7.6" font-weight="bold" text-anchor="end" transform="rotate(-45 262.3 619.8)" fill="#111">Gag4Y</text>
<line x1="313" y1="607.3" x2="313" y2="610.3" stroke="#111" stroke-width="1.7"/>
<text x="315.3" y="619.8" font-size="7.6" font-weight="bold" text-anchor="end" transform="rotate(-45 315.3 619.8)" fill="#111">Gag4Y IL-12</text>
<line x1="365.3" y1="607.3" x2="365.3" y2="610.3" stroke="#111" stroke-width="1.7"/>
<text x="367.6" y="619.8" font-size="7.6" font-weight="bold" text-anchor="end" transform="rotate(-45 367.6 619.8)" fill="#111">Gag4Y IL-28</text>
<text x="212.6" y="554.6" font-size="8.8" font-weight="bold" text-anchor="middle" transform="rotate(-90 212.6 554.6)" fill="#111">% CD107a+/CD8+ Cells</text>
<line x1="260" y1="583.2" x2="260" y2="600.5" stroke="#111" stroke-width="1.6"/>
<line x1="257.5" y1="583.2" x2="262.5" y2="583.2" stroke="#111" stroke-width="1.6"/>
<line x1="257.5" y1="600.5" x2="262.5" y2="600.5" stroke="#111" stroke-width="1.6"/>
<circle cx="260" cy="592" r="2.6" fill="#111"/>
<line x1="313" y1="567.6" x2="313" y2="583.3" stroke="#111" stroke-width="1.6"/>
<line x1="310.5" y1="567.6" x2="315.5" y2="567.6" stroke="#111" stroke-width="1.6"/>
<line x1="310.5" y1="583.3" x2="315.5" y2="583.3" stroke="#111" stroke-width="1.6"/>
<rect x="310.4" y="572.6" width="5.2" height="5.2" fill="#111"/>
<line x1="365.3" y1="532.8" x2="365.3" y2="554" stroke="#111" stroke-width="1.6"/>
<line x1="362.8" y1="532.8" x2="367.8" y2="532.8" stroke="#111" stroke-width="1.6"/>
<line x1="362.8" y1="554" x2="367.8" y2="554" stroke="#111" stroke-width="1.6"/>
<polygon points="365.3,541.0 368.3,546.6 362.3,546.6" fill="#111"/>
<text transform="translate(364.7 529.1) scale(0.86 1)" font-size="8.0" font-weight="bold" text-anchor="middle" fill="#111"><tspan font-style="italic">P</tspan> &lt; .01</text>
</svg></body></html>
